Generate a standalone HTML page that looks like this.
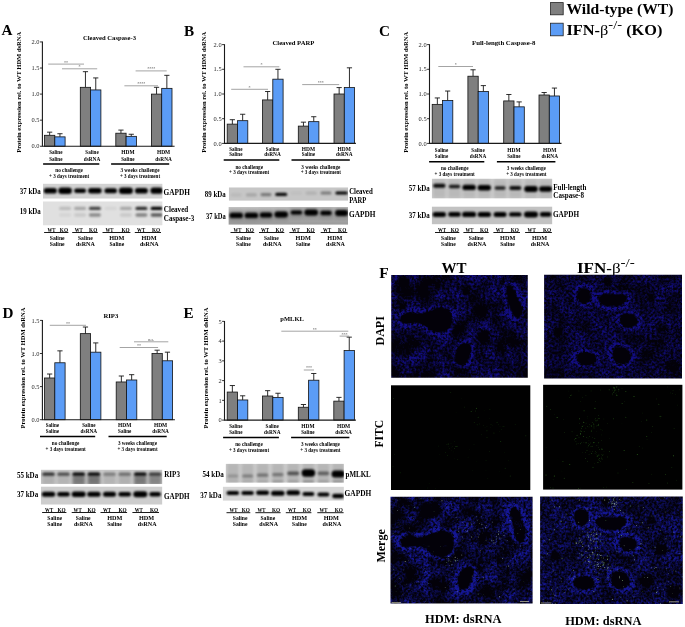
<!DOCTYPE html>
<html><head><meta charset="utf-8"><title>Figure</title>
<style>html,body{margin:0;padding:0;background:#fff}svg{display:block}text{font-family:"Liberation Serif", serif}</style>
</head><body>
<svg width="685" height="627" viewBox="0 0 685 627">
<defs>
<filter id="bl1" x="-30%" y="-80%" width="160%" height="260%"><feGaussianBlur stdDeviation="0.9 0.8"/></filter>
<filter id="bl2" x="-30%" y="-30%" width="160%" height="160%"><feGaussianBlur stdDeviation="1.6 2"/></filter>
<filter id="bl3" x="-20%" y="-20%" width="140%" height="140%"><feGaussianBlur stdDeviation="0.7"/></filter>
<filter id="spk" x="0" y="0" width="100%" height="100%" color-interpolation-filters="sRGB">
<feTurbulence type="fractalNoise" baseFrequency="0.55" numOctaves="2" seed="3"/><feColorMatrix type="matrix" values="1 0 0 0 0  0 1 0 0 0  0 0 1 0 0  0 0 0 0 1" result="n1"/>
<feTurbulence type="fractalNoise" baseFrequency="0.05" numOctaves="2" seed="8"/><feColorMatrix type="matrix" values="1 0 0 0 0  0 1 0 0 0  0 0 1 0 0  0 0 0 0 1" result="n2"/>
<feComposite in="n1" in2="n2" operator="arithmetic" k1="0" k2="2.6" k3="2.0" k4="-2.05"/>
<feColorMatrix type="matrix" values="0.09 0 0 0 0.01  0.05 0 0 0 0  0.62 0 0 0 0.03  0 0 0 0 1"/>
</filter>
<filter id="spk2" x="0" y="0" width="100%" height="100%" color-interpolation-filters="sRGB">
<feTurbulence type="fractalNoise" baseFrequency="0.55" numOctaves="2" seed="11"/><feColorMatrix type="matrix" values="1 0 0 0 0  0 1 0 0 0  0 0 1 0 0  0 0 0 0 1" result="n1"/>
<feTurbulence type="fractalNoise" baseFrequency="0.05" numOctaves="2" seed="21"/><feColorMatrix type="matrix" values="1 0 0 0 0  0 1 0 0 0  0 0 1 0 0  0 0 0 0 1" result="n2"/>
<feComposite in="n1" in2="n2" operator="arithmetic" k1="0" k2="2.6" k3="1.8" k4="-1.92"/>
<feColorMatrix type="matrix" values="0.09 0 0 0 0.01  0.05 0 0 0 0  0.62 0 0 0 0.03  0 0 0 0 1"/>
</filter>
</defs>
<rect width="685" height="627" fill="#fff"/>

<rect x="550.6" y="2.6" width="12.6" height="12.2" fill="#7f7f7f" stroke="#222" stroke-width="0.8"/>
<rect x="550.6" y="23.2" width="12.6" height="12.6" fill="#5b9cf6" stroke="#222" stroke-width="0.8"/>
<text x="566.50" y="13.80" font-size="15.2" font-weight="bold" fill="#000" textLength="106.90" lengthAdjust="spacingAndGlyphs" >Wild-type (WT)</text>
<text x="566.5" y="34.9" font-size="15.2" font-weight="bold" textLength="95.9" lengthAdjust="spacingAndGlyphs">IFN-<tspan font-weight="normal">β</tspan><tspan dy="-5.6" font-size="13.5" font-weight="normal">-/-</tspan><tspan dy="5.6"> (KO)</tspan></text>
<path d="M49.65 135.30V132.17M47.05 132.17H52.25" stroke="#161616" stroke-width="0.9" fill="none"/>
<rect x="44.50" y="135.30" width="10.30" height="10.95" fill="#7f7f7f" stroke="#111" stroke-width="0.8"/>
<path d="M59.95 136.86V133.73M57.35 133.73H62.55" stroke="#161616" stroke-width="0.9" fill="none"/>
<rect x="54.80" y="136.86" width="10.30" height="9.39" fill="#5b9cf6" stroke="#111" stroke-width="0.8"/>
<path d="M85.45 87.32V71.68M82.85 71.68H88.05" stroke="#161616" stroke-width="0.9" fill="none"/>
<rect x="80.30" y="87.32" width="10.30" height="58.93" fill="#7f7f7f" stroke="#111" stroke-width="0.8"/>
<path d="M95.75 89.93V77.93M93.15 77.93H98.35" stroke="#161616" stroke-width="0.9" fill="none"/>
<rect x="90.60" y="89.93" width="10.30" height="56.32" fill="#5b9cf6" stroke="#111" stroke-width="0.8"/>
<path d="M120.95 133.21V130.08M118.35 130.08H123.55" stroke="#161616" stroke-width="0.9" fill="none"/>
<rect x="115.80" y="133.21" width="10.30" height="13.04" fill="#7f7f7f" stroke="#111" stroke-width="0.8"/>
<path d="M131.25 136.34V134.26M128.65 134.26H133.85" stroke="#161616" stroke-width="0.9" fill="none"/>
<rect x="126.10" y="136.34" width="10.30" height="9.91" fill="#5b9cf6" stroke="#111" stroke-width="0.8"/>
<path d="M156.55 94.10V87.32M153.95 87.32H159.15" stroke="#161616" stroke-width="0.9" fill="none"/>
<rect x="151.40" y="94.10" width="10.30" height="52.15" fill="#7f7f7f" stroke="#111" stroke-width="0.8"/>
<path d="M166.85 88.36V75.33M164.25 75.33H169.45" stroke="#161616" stroke-width="0.9" fill="none"/>
<rect x="161.70" y="88.36" width="10.30" height="57.89" fill="#5b9cf6" stroke="#111" stroke-width="0.8"/>
<path d="M42.40 41.55V146.25H174.60" stroke="#1a1a1a" stroke-width="1.1" fill="none"/>
<path d="M40.00 146.25H42.40" stroke="#1a1a1a" stroke-width="0.9"/>
<text x="39.50" y="148.40" font-size="6.4" font-weight="normal" fill="#262626" text-anchor="end" >0.0</text>
<path d="M40.00 120.17H42.40" stroke="#1a1a1a" stroke-width="0.9"/>
<text x="39.50" y="122.33" font-size="6.4" font-weight="normal" fill="#262626" text-anchor="end" >0.5</text>
<path d="M40.00 94.10H42.40" stroke="#1a1a1a" stroke-width="0.9"/>
<text x="39.50" y="96.25" font-size="6.4" font-weight="normal" fill="#262626" text-anchor="end" >1.0</text>
<path d="M40.00 68.03H42.40" stroke="#1a1a1a" stroke-width="0.9"/>
<text x="39.50" y="70.18" font-size="6.4" font-weight="normal" fill="#262626" text-anchor="end" >1.5</text>
<path d="M40.00 41.95H42.40" stroke="#1a1a1a" stroke-width="0.9"/>
<text x="39.50" y="44.10" font-size="6.4" font-weight="normal" fill="#262626" text-anchor="end" >2.0</text>
<path d="M48.20 64.10H84.00" stroke="#7c7c7c" stroke-width="0.7"/>
<text x="66.10" y="63.50" font-size="4" font-weight="bold" fill="#777" text-anchor="middle" >**</text>
<path d="M62.00 68.80H97.20" stroke="#7c7c7c" stroke-width="0.7"/>
<text x="79.60" y="68.20" font-size="4" font-weight="bold" fill="#777" text-anchor="middle" >*</text>
<path d="M135.60 70.90H166.70" stroke="#7c7c7c" stroke-width="0.7"/>
<text x="151.15" y="70.30" font-size="4" font-weight="bold" fill="#777" text-anchor="middle" >****</text>
<path d="M124.40 85.80H158.00" stroke="#7c7c7c" stroke-width="0.7"/>
<text x="141.20" y="85.20" font-size="4" font-weight="bold" fill="#777" text-anchor="middle" >****</text>
<text x="82.90" y="40.18" font-size="6" font-weight="bold" fill="#000" textLength="53.10" lengthAdjust="spacingAndGlyphs" >Cleaved Caspase-3</text>
<text x="21.30" y="152.80" font-size="5.6" font-weight="bold" fill="#000" textLength="121.00" lengthAdjust="spacingAndGlyphs" transform="rotate(-90 21.30 152.80)" >Protein expression rel. to WT HDM dsRNA</text>
<text x="49.15" y="154.45" font-size="5.3" font-weight="bold" fill="#000" textLength="13.30" lengthAdjust="spacingAndGlyphs" >Saline</text>
<text x="49.15" y="160.65" font-size="5.3" font-weight="bold" fill="#000" textLength="13.30" lengthAdjust="spacingAndGlyphs" >Saline</text>
<text x="85.35" y="154.45" font-size="5.3" font-weight="bold" fill="#000" textLength="13.30" lengthAdjust="spacingAndGlyphs" >Saline</text>
<text x="83.70" y="160.65" font-size="5.3" font-weight="bold" fill="#000" textLength="16.60" lengthAdjust="spacingAndGlyphs" >dsRNA</text>
<text x="121.25" y="154.45" font-size="5.3" font-weight="bold" fill="#000" textLength="13.30" lengthAdjust="spacingAndGlyphs" >HDM</text>
<text x="121.25" y="160.65" font-size="5.3" font-weight="bold" fill="#000" textLength="13.30" lengthAdjust="spacingAndGlyphs" >Saline</text>
<text x="156.95" y="154.45" font-size="5.3" font-weight="bold" fill="#000" textLength="13.30" lengthAdjust="spacingAndGlyphs" >HDM</text>
<text x="155.30" y="160.65" font-size="5.3" font-weight="bold" fill="#000" textLength="16.60" lengthAdjust="spacingAndGlyphs" >dsRNA</text>
<path d="M43.10 164.00H99.30M111.10 164.00H169.20" stroke="#000" stroke-width="1.45"/>
<text x="55.30" y="172.20" font-size="5.3" font-weight="bold" fill="#000" textLength="27.60" lengthAdjust="spacingAndGlyphs" >no challenge</text>
<text x="49.00" y="178.40" font-size="5.3" font-weight="bold" fill="#000" textLength="40.20" lengthAdjust="spacingAndGlyphs" >+ 3 days treatment</text>
<text x="120.50" y="172.20" font-size="5.3" font-weight="bold" fill="#000" textLength="39.00" lengthAdjust="spacingAndGlyphs" >3 weeks challenge</text>
<text x="119.90" y="178.40" font-size="5.3" font-weight="bold" fill="#000" textLength="40.20" lengthAdjust="spacingAndGlyphs" >+ 3 days treatment</text>
<text x="1.60" y="35.40" font-size="15.2" font-weight="bold" fill="#000" >A</text>
<path d="M232.35 124.13V119.69M229.75 119.69H234.95" stroke="#161616" stroke-width="0.9" fill="none"/>
<rect x="227.20" y="124.13" width="10.30" height="19.27" fill="#7f7f7f" stroke="#111" stroke-width="0.8"/>
<path d="M242.65 120.68V114.25M240.05 114.25H245.25" stroke="#161616" stroke-width="0.9" fill="none"/>
<rect x="237.50" y="120.68" width="10.30" height="22.72" fill="#5b9cf6" stroke="#111" stroke-width="0.8"/>
<path d="M267.65 99.93V91.53M265.05 91.53H270.25" stroke="#161616" stroke-width="0.9" fill="none"/>
<rect x="262.50" y="99.93" width="10.30" height="43.47" fill="#7f7f7f" stroke="#111" stroke-width="0.8"/>
<path d="M277.95 79.18V69.30M275.35 69.30H280.55" stroke="#161616" stroke-width="0.9" fill="none"/>
<rect x="272.80" y="79.18" width="10.30" height="64.22" fill="#5b9cf6" stroke="#111" stroke-width="0.8"/>
<path d="M303.45 126.11V122.16M300.85 122.16H306.05" stroke="#161616" stroke-width="0.9" fill="none"/>
<rect x="298.30" y="126.11" width="10.30" height="17.29" fill="#7f7f7f" stroke="#111" stroke-width="0.8"/>
<path d="M313.75 121.66V116.72M311.15 116.72H316.35" stroke="#161616" stroke-width="0.9" fill="none"/>
<rect x="308.60" y="121.66" width="10.30" height="21.74" fill="#5b9cf6" stroke="#111" stroke-width="0.8"/>
<path d="M339.15 94.00V87.58M336.55 87.58H341.75" stroke="#161616" stroke-width="0.9" fill="none"/>
<rect x="334.00" y="94.00" width="10.30" height="49.40" fill="#7f7f7f" stroke="#111" stroke-width="0.8"/>
<path d="M349.45 87.58V67.82M346.85 67.82H352.05" stroke="#161616" stroke-width="0.9" fill="none"/>
<rect x="344.30" y="87.58" width="10.30" height="55.82" fill="#5b9cf6" stroke="#111" stroke-width="0.8"/>
<path d="M224.50 44.20V143.40H355.90" stroke="#1a1a1a" stroke-width="1.1" fill="none"/>
<path d="M222.10 143.40H224.50" stroke="#1a1a1a" stroke-width="0.9"/>
<text x="221.60" y="145.55" font-size="6.4" font-weight="normal" fill="#262626" text-anchor="end" >0.0</text>
<path d="M222.10 118.70H224.50" stroke="#1a1a1a" stroke-width="0.9"/>
<text x="221.60" y="120.85" font-size="6.4" font-weight="normal" fill="#262626" text-anchor="end" >0.5</text>
<path d="M222.10 94.00H224.50" stroke="#1a1a1a" stroke-width="0.9"/>
<text x="221.60" y="96.15" font-size="6.4" font-weight="normal" fill="#262626" text-anchor="end" >1.0</text>
<path d="M222.10 69.30H224.50" stroke="#1a1a1a" stroke-width="0.9"/>
<text x="221.60" y="71.45" font-size="6.4" font-weight="normal" fill="#262626" text-anchor="end" >1.5</text>
<path d="M222.10 44.60H224.50" stroke="#1a1a1a" stroke-width="0.9"/>
<text x="221.60" y="46.75" font-size="6.4" font-weight="normal" fill="#262626" text-anchor="end" >2.0</text>
<path d="M243.50 66.80H279.30" stroke="#7c7c7c" stroke-width="0.7"/>
<text x="261.40" y="66.20" font-size="4" font-weight="bold" fill="#777" text-anchor="middle" >*</text>
<path d="M231.20 89.30H268.00" stroke="#7c7c7c" stroke-width="0.7"/>
<text x="249.60" y="88.70" font-size="4" font-weight="bold" fill="#777" text-anchor="middle" >*</text>
<path d="M302.20 84.60H339.20" stroke="#7c7c7c" stroke-width="0.7"/>
<text x="320.70" y="84.00" font-size="4" font-weight="bold" fill="#777" text-anchor="middle" >***</text>
<text x="272.50" y="44.88" font-size="6" font-weight="bold" fill="#000" textLength="41.90" lengthAdjust="spacingAndGlyphs" >Cleaved PARP</text>
<text x="205.60" y="152.80" font-size="5.6" font-weight="bold" fill="#000" textLength="121.00" lengthAdjust="spacingAndGlyphs" transform="rotate(-90 205.60 152.80)" >Protein expression rel. to WT HDM dsRNA</text>
<text x="229.15" y="150.85" font-size="5.3" font-weight="bold" fill="#000" textLength="13.30" lengthAdjust="spacingAndGlyphs" >Saline</text>
<text x="229.15" y="156.35" font-size="5.3" font-weight="bold" fill="#000" textLength="13.30" lengthAdjust="spacingAndGlyphs" >Saline</text>
<text x="265.85" y="150.85" font-size="5.3" font-weight="bold" fill="#000" textLength="13.30" lengthAdjust="spacingAndGlyphs" >Saline</text>
<text x="264.20" y="156.35" font-size="5.3" font-weight="bold" fill="#000" textLength="16.60" lengthAdjust="spacingAndGlyphs" >dsRNA</text>
<text x="301.75" y="150.85" font-size="5.3" font-weight="bold" fill="#000" textLength="13.30" lengthAdjust="spacingAndGlyphs" >HDM</text>
<text x="301.75" y="156.35" font-size="5.3" font-weight="bold" fill="#000" textLength="13.30" lengthAdjust="spacingAndGlyphs" >Saline</text>
<text x="337.55" y="150.85" font-size="5.3" font-weight="bold" fill="#000" textLength="13.30" lengthAdjust="spacingAndGlyphs" >HDM</text>
<text x="335.90" y="156.35" font-size="5.3" font-weight="bold" fill="#000" textLength="16.60" lengthAdjust="spacingAndGlyphs" >dsRNA</text>
<path d="M223.70 160.00H279.30M291.50 160.00H349.80" stroke="#000" stroke-width="1.45"/>
<text x="235.40" y="168.60" font-size="5.3" font-weight="bold" fill="#000" textLength="27.60" lengthAdjust="spacingAndGlyphs" >no challenge</text>
<text x="229.10" y="174.30" font-size="5.3" font-weight="bold" fill="#000" textLength="40.20" lengthAdjust="spacingAndGlyphs" >+ 3 days treatment</text>
<text x="301.30" y="168.60" font-size="5.3" font-weight="bold" fill="#000" textLength="39.00" lengthAdjust="spacingAndGlyphs" >3 weeks challenge</text>
<text x="300.70" y="174.30" font-size="5.3" font-weight="bold" fill="#000" textLength="40.20" lengthAdjust="spacingAndGlyphs" >+ 3 days treatment</text>
<text x="184.00" y="35.50" font-size="15.2" font-weight="bold" fill="#000" >B</text>
<path d="M437.35 104.37V97.95M434.75 97.95H439.95" stroke="#161616" stroke-width="0.9" fill="none"/>
<rect x="432.20" y="104.37" width="10.30" height="39.03" fill="#7f7f7f" stroke="#111" stroke-width="0.8"/>
<path d="M447.65 100.42V91.04M445.05 91.04H450.25" stroke="#161616" stroke-width="0.9" fill="none"/>
<rect x="442.50" y="100.42" width="10.30" height="42.98" fill="#5b9cf6" stroke="#111" stroke-width="0.8"/>
<path d="M473.05 76.22V69.79M470.45 69.79H475.65" stroke="#161616" stroke-width="0.9" fill="none"/>
<rect x="467.90" y="76.22" width="10.30" height="67.18" fill="#7f7f7f" stroke="#111" stroke-width="0.8"/>
<path d="M483.35 91.53V85.60M480.75 85.60H485.95" stroke="#161616" stroke-width="0.9" fill="none"/>
<rect x="478.20" y="91.53" width="10.30" height="51.87" fill="#5b9cf6" stroke="#111" stroke-width="0.8"/>
<path d="M508.85 100.92V94.49M506.25 94.49H511.45" stroke="#161616" stroke-width="0.9" fill="none"/>
<rect x="503.70" y="100.92" width="10.30" height="42.48" fill="#7f7f7f" stroke="#111" stroke-width="0.8"/>
<path d="M519.15 106.84V101.90M516.55 101.90H521.75" stroke="#161616" stroke-width="0.9" fill="none"/>
<rect x="514.00" y="106.84" width="10.30" height="36.56" fill="#5b9cf6" stroke="#111" stroke-width="0.8"/>
<path d="M544.15 94.99V92.52M541.55 92.52H546.75" stroke="#161616" stroke-width="0.9" fill="none"/>
<rect x="539.00" y="94.99" width="10.30" height="48.41" fill="#7f7f7f" stroke="#111" stroke-width="0.8"/>
<path d="M554.45 95.98V88.07M551.85 88.07H557.05" stroke="#161616" stroke-width="0.9" fill="none"/>
<rect x="549.30" y="95.98" width="10.30" height="47.42" fill="#5b9cf6" stroke="#111" stroke-width="0.8"/>
<path d="M429.50 44.20V143.40H561.50" stroke="#1a1a1a" stroke-width="1.1" fill="none"/>
<path d="M427.10 143.40H429.50" stroke="#1a1a1a" stroke-width="0.9"/>
<text x="426.60" y="145.55" font-size="6.4" font-weight="normal" fill="#262626" text-anchor="end" >0.0</text>
<path d="M427.10 118.70H429.50" stroke="#1a1a1a" stroke-width="0.9"/>
<text x="426.60" y="120.85" font-size="6.4" font-weight="normal" fill="#262626" text-anchor="end" >0.5</text>
<path d="M427.10 94.00H429.50" stroke="#1a1a1a" stroke-width="0.9"/>
<text x="426.60" y="96.15" font-size="6.4" font-weight="normal" fill="#262626" text-anchor="end" >1.0</text>
<path d="M427.10 69.30H429.50" stroke="#1a1a1a" stroke-width="0.9"/>
<text x="426.60" y="71.45" font-size="6.4" font-weight="normal" fill="#262626" text-anchor="end" >1.5</text>
<path d="M427.10 44.60H429.50" stroke="#1a1a1a" stroke-width="0.9"/>
<text x="426.60" y="46.75" font-size="6.4" font-weight="normal" fill="#262626" text-anchor="end" >2.0</text>
<path d="M438.30 66.50H473.00" stroke="#7c7c7c" stroke-width="0.7"/>
<text x="455.65" y="65.90" font-size="4" font-weight="bold" fill="#777" text-anchor="middle" >*</text>
<text x="472.00" y="44.88" font-size="6" font-weight="bold" fill="#000" textLength="63.40" lengthAdjust="spacingAndGlyphs" >Full-length Caspase-8</text>
<text x="408.00" y="152.80" font-size="5.6" font-weight="bold" fill="#000" textLength="121.00" lengthAdjust="spacingAndGlyphs" transform="rotate(-90 408.00 152.80)" >Protein expression rel. to WT HDM dsRNA</text>
<text x="434.85" y="152.35" font-size="5.3" font-weight="bold" fill="#000" textLength="13.30" lengthAdjust="spacingAndGlyphs" >Saline</text>
<text x="434.85" y="158.45" font-size="5.3" font-weight="bold" fill="#000" textLength="13.30" lengthAdjust="spacingAndGlyphs" >Saline</text>
<text x="471.35" y="152.35" font-size="5.3" font-weight="bold" fill="#000" textLength="13.30" lengthAdjust="spacingAndGlyphs" >Saline</text>
<text x="469.70" y="158.45" font-size="5.3" font-weight="bold" fill="#000" textLength="16.60" lengthAdjust="spacingAndGlyphs" >dsRNA</text>
<text x="507.25" y="152.35" font-size="5.3" font-weight="bold" fill="#000" textLength="13.30" lengthAdjust="spacingAndGlyphs" >HDM</text>
<text x="507.25" y="158.45" font-size="5.3" font-weight="bold" fill="#000" textLength="13.30" lengthAdjust="spacingAndGlyphs" >Saline</text>
<text x="543.05" y="152.35" font-size="5.3" font-weight="bold" fill="#000" textLength="13.30" lengthAdjust="spacingAndGlyphs" >HDM</text>
<text x="541.40" y="158.45" font-size="5.3" font-weight="bold" fill="#000" textLength="16.60" lengthAdjust="spacingAndGlyphs" >dsRNA</text>
<path d="M429.10 161.80H484.30M496.90 161.80H555.40" stroke="#000" stroke-width="1.45"/>
<text x="440.90" y="170.20" font-size="5.3" font-weight="bold" fill="#000" textLength="27.60" lengthAdjust="spacingAndGlyphs" >no challenge</text>
<text x="434.60" y="176.00" font-size="5.3" font-weight="bold" fill="#000" textLength="40.20" lengthAdjust="spacingAndGlyphs" >+ 3 days treatment</text>
<text x="506.80" y="170.20" font-size="5.3" font-weight="bold" fill="#000" textLength="39.00" lengthAdjust="spacingAndGlyphs" >3 weeks challenge</text>
<text x="506.20" y="176.00" font-size="5.3" font-weight="bold" fill="#000" textLength="40.20" lengthAdjust="spacingAndGlyphs" >+ 3 days treatment</text>
<text x="379.00" y="35.60" font-size="15.2" font-weight="bold" fill="#000" >C</text>
<path d="M49.65 377.99V374.02M47.05 374.02H52.25" stroke="#161616" stroke-width="0.9" fill="none"/>
<rect x="44.50" y="377.99" width="10.30" height="41.71" fill="#7f7f7f" stroke="#111" stroke-width="0.8"/>
<path d="M59.95 362.77V350.85M57.35 350.85H62.55" stroke="#161616" stroke-width="0.9" fill="none"/>
<rect x="54.80" y="362.77" width="10.30" height="56.93" fill="#5b9cf6" stroke="#111" stroke-width="0.8"/>
<path d="M85.45 333.64V327.02M82.85 327.02H88.05" stroke="#161616" stroke-width="0.9" fill="none"/>
<rect x="80.30" y="333.64" width="10.30" height="86.06" fill="#7f7f7f" stroke="#111" stroke-width="0.8"/>
<path d="M95.75 352.18V342.91M93.15 342.91H98.35" stroke="#161616" stroke-width="0.9" fill="none"/>
<rect x="90.60" y="352.18" width="10.30" height="67.52" fill="#5b9cf6" stroke="#111" stroke-width="0.8"/>
<path d="M121.35 381.97V376.01M118.75 376.01H123.95" stroke="#161616" stroke-width="0.9" fill="none"/>
<rect x="116.20" y="381.97" width="10.30" height="37.73" fill="#7f7f7f" stroke="#111" stroke-width="0.8"/>
<path d="M131.65 379.98V374.68M129.05 374.68H134.25" stroke="#161616" stroke-width="0.9" fill="none"/>
<rect x="126.50" y="379.98" width="10.30" height="39.72" fill="#5b9cf6" stroke="#111" stroke-width="0.8"/>
<path d="M157.15 353.50V350.19M154.55 350.19H159.75" stroke="#161616" stroke-width="0.9" fill="none"/>
<rect x="152.00" y="353.50" width="10.30" height="66.20" fill="#7f7f7f" stroke="#111" stroke-width="0.8"/>
<path d="M167.45 360.78V352.18M164.85 352.18H170.05" stroke="#161616" stroke-width="0.9" fill="none"/>
<rect x="162.30" y="360.78" width="10.30" height="58.92" fill="#5b9cf6" stroke="#111" stroke-width="0.8"/>
<path d="M42.40 320.00V419.70H174.90" stroke="#1a1a1a" stroke-width="1.1" fill="none"/>
<path d="M40.00 419.70H42.40" stroke="#1a1a1a" stroke-width="0.9"/>
<text x="39.50" y="421.85" font-size="6.4" font-weight="normal" fill="#262626" text-anchor="end" >0.0</text>
<path d="M40.00 386.60H42.40" stroke="#1a1a1a" stroke-width="0.9"/>
<text x="39.50" y="388.75" font-size="6.4" font-weight="normal" fill="#262626" text-anchor="end" >0.5</text>
<path d="M40.00 353.50H42.40" stroke="#1a1a1a" stroke-width="0.9"/>
<text x="39.50" y="355.65" font-size="6.4" font-weight="normal" fill="#262626" text-anchor="end" >1.0</text>
<path d="M40.00 320.40H42.40" stroke="#1a1a1a" stroke-width="0.9"/>
<text x="39.50" y="322.55" font-size="6.4" font-weight="normal" fill="#262626" text-anchor="end" >1.5</text>
<path d="M49.80 325.30H86.00" stroke="#7c7c7c" stroke-width="0.7"/>
<text x="67.90" y="324.70" font-size="4" font-weight="bold" fill="#777" text-anchor="middle" >**</text>
<path d="M134.00 341.80H168.30" stroke="#7c7c7c" stroke-width="0.7"/>
<text x="151.15" y="341.20" font-size="4" font-weight="bold" fill="#777" text-anchor="middle" >n.s.</text>
<path d="M119.70 347.50H158.10" stroke="#7c7c7c" stroke-width="0.7"/>
<text x="138.90" y="346.90" font-size="4" font-weight="bold" fill="#777" text-anchor="middle" >**</text>
<text x="103.40" y="318.18" font-size="6" font-weight="bold" fill="#000" textLength="14.90" lengthAdjust="spacingAndGlyphs" >RIP3</text>
<text x="24.60" y="428.50" font-size="5.6" font-weight="bold" fill="#000" textLength="121.00" lengthAdjust="spacingAndGlyphs" transform="rotate(-90 24.60 428.50)" >Protein expression rel. to WT HDM dsRNA</text>
<text x="45.75" y="426.85" font-size="5.3" font-weight="bold" fill="#000" textLength="13.30" lengthAdjust="spacingAndGlyphs" >Saline</text>
<text x="45.75" y="433.05" font-size="5.3" font-weight="bold" fill="#000" textLength="13.30" lengthAdjust="spacingAndGlyphs" >Saline</text>
<text x="82.25" y="426.85" font-size="5.3" font-weight="bold" fill="#000" textLength="13.30" lengthAdjust="spacingAndGlyphs" >Saline</text>
<text x="80.60" y="433.05" font-size="5.3" font-weight="bold" fill="#000" textLength="16.60" lengthAdjust="spacingAndGlyphs" >dsRNA</text>
<text x="118.05" y="426.85" font-size="5.3" font-weight="bold" fill="#000" textLength="13.30" lengthAdjust="spacingAndGlyphs" >HDM</text>
<text x="118.05" y="433.05" font-size="5.3" font-weight="bold" fill="#000" textLength="13.30" lengthAdjust="spacingAndGlyphs" >Saline</text>
<text x="153.95" y="426.85" font-size="5.3" font-weight="bold" fill="#000" textLength="13.30" lengthAdjust="spacingAndGlyphs" >HDM</text>
<text x="152.30" y="433.05" font-size="5.3" font-weight="bold" fill="#000" textLength="16.60" lengthAdjust="spacingAndGlyphs" >dsRNA</text>
<path d="M40.00 436.40H95.20M108.50 436.40H166.70" stroke="#000" stroke-width="1.45"/>
<text x="51.80" y="444.80" font-size="5.3" font-weight="bold" fill="#000" textLength="27.60" lengthAdjust="spacingAndGlyphs" >no challenge</text>
<text x="45.50" y="450.90" font-size="5.3" font-weight="bold" fill="#000" textLength="40.20" lengthAdjust="spacingAndGlyphs" >+ 3 days treatment</text>
<text x="118.00" y="444.80" font-size="5.3" font-weight="bold" fill="#000" textLength="39.00" lengthAdjust="spacingAndGlyphs" >3 weeks challenge</text>
<text x="117.40" y="450.90" font-size="5.3" font-weight="bold" fill="#000" textLength="40.20" lengthAdjust="spacingAndGlyphs" >+ 3 days treatment</text>
<text x="2.40" y="317.90" font-size="15.2" font-weight="bold" fill="#000" >D</text>
<path d="M232.35 392.06V385.54M229.75 385.54H234.95" stroke="#161616" stroke-width="0.9" fill="none"/>
<rect x="227.20" y="392.06" width="10.30" height="28.05" fill="#7f7f7f" stroke="#111" stroke-width="0.8"/>
<path d="M242.65 399.96V395.81M240.05 395.81H245.25" stroke="#161616" stroke-width="0.9" fill="none"/>
<rect x="237.50" y="399.96" width="10.30" height="20.14" fill="#5b9cf6" stroke="#111" stroke-width="0.8"/>
<path d="M267.65 396.00V390.67M265.05 390.67H270.25" stroke="#161616" stroke-width="0.9" fill="none"/>
<rect x="262.50" y="396.00" width="10.30" height="24.10" fill="#7f7f7f" stroke="#111" stroke-width="0.8"/>
<path d="M277.95 397.39V393.24M275.35 393.24H280.55" stroke="#161616" stroke-width="0.9" fill="none"/>
<rect x="272.80" y="397.39" width="10.30" height="22.71" fill="#5b9cf6" stroke="#111" stroke-width="0.8"/>
<path d="M303.45 407.26V404.50M300.85 404.50H306.05" stroke="#161616" stroke-width="0.9" fill="none"/>
<rect x="298.30" y="407.26" width="10.30" height="12.84" fill="#7f7f7f" stroke="#111" stroke-width="0.8"/>
<path d="M313.75 380.21V373.49M311.15 373.49H316.35" stroke="#161616" stroke-width="0.9" fill="none"/>
<rect x="308.60" y="380.21" width="10.30" height="39.89" fill="#5b9cf6" stroke="#111" stroke-width="0.8"/>
<path d="M338.95 401.14V397.39M336.35 397.39H341.55" stroke="#161616" stroke-width="0.9" fill="none"/>
<rect x="333.80" y="401.14" width="10.30" height="18.96" fill="#7f7f7f" stroke="#111" stroke-width="0.8"/>
<path d="M349.25 350.58V337.15M346.65 337.15H351.85" stroke="#161616" stroke-width="0.9" fill="none"/>
<rect x="344.10" y="350.58" width="10.30" height="69.52" fill="#5b9cf6" stroke="#111" stroke-width="0.8"/>
<path d="M224.50 320.95V420.10H355.90" stroke="#1a1a1a" stroke-width="1.1" fill="none"/>
<path d="M222.10 420.10H224.50" stroke="#1a1a1a" stroke-width="0.9"/>
<text x="221.60" y="422.25" font-size="6.4" font-weight="normal" fill="#262626" text-anchor="end" >0</text>
<path d="M222.10 400.35H224.50" stroke="#1a1a1a" stroke-width="0.9"/>
<text x="221.60" y="402.50" font-size="6.4" font-weight="normal" fill="#262626" text-anchor="end" >1</text>
<path d="M222.10 380.60H224.50" stroke="#1a1a1a" stroke-width="0.9"/>
<text x="221.60" y="382.75" font-size="6.4" font-weight="normal" fill="#262626" text-anchor="end" >2</text>
<path d="M222.10 360.85H224.50" stroke="#1a1a1a" stroke-width="0.9"/>
<text x="221.60" y="363.00" font-size="6.4" font-weight="normal" fill="#262626" text-anchor="end" >3</text>
<path d="M222.10 341.10H224.50" stroke="#1a1a1a" stroke-width="0.9"/>
<text x="221.60" y="343.25" font-size="6.4" font-weight="normal" fill="#262626" text-anchor="end" >4</text>
<path d="M222.10 321.35H224.50" stroke="#1a1a1a" stroke-width="0.9"/>
<text x="221.60" y="323.50" font-size="6.4" font-weight="normal" fill="#262626" text-anchor="end" >5</text>
<path d="M281.30 331.20H348.30" stroke="#7c7c7c" stroke-width="0.7"/>
<text x="314.80" y="330.60" font-size="4" font-weight="bold" fill="#777" text-anchor="middle" >**</text>
<path d="M303.80 370.00H314.00" stroke="#7c7c7c" stroke-width="0.7"/>
<text x="308.90" y="369.40" font-size="4" font-weight="bold" fill="#777" text-anchor="middle" >***</text>
<path d="M339.60 336.10H349.20" stroke="#7c7c7c" stroke-width="0.7"/>
<text x="344.40" y="335.50" font-size="4" font-weight="bold" fill="#777" text-anchor="middle" >***</text>
<text x="280.30" y="321.08" font-size="6.6" font-weight="bold" fill="#000" textLength="23.50" lengthAdjust="spacingAndGlyphs" >pMLKL</text>
<text x="208.40" y="428.50" font-size="5.6" font-weight="bold" fill="#000" textLength="121.00" lengthAdjust="spacingAndGlyphs" transform="rotate(-90 208.40 428.50)" >Protein expression rel. to WT HDM dsRNA</text>
<text x="229.15" y="427.95" font-size="5.3" font-weight="bold" fill="#000" textLength="13.30" lengthAdjust="spacingAndGlyphs" >Saline</text>
<text x="229.15" y="434.05" font-size="5.3" font-weight="bold" fill="#000" textLength="13.30" lengthAdjust="spacingAndGlyphs" >Saline</text>
<text x="265.55" y="427.95" font-size="5.3" font-weight="bold" fill="#000" textLength="13.30" lengthAdjust="spacingAndGlyphs" >Saline</text>
<text x="263.90" y="434.05" font-size="5.3" font-weight="bold" fill="#000" textLength="16.60" lengthAdjust="spacingAndGlyphs" >dsRNA</text>
<text x="301.25" y="427.95" font-size="5.3" font-weight="bold" fill="#000" textLength="13.30" lengthAdjust="spacingAndGlyphs" >HDM</text>
<text x="301.25" y="434.05" font-size="5.3" font-weight="bold" fill="#000" textLength="13.30" lengthAdjust="spacingAndGlyphs" >Saline</text>
<text x="336.95" y="427.95" font-size="5.3" font-weight="bold" fill="#000" textLength="13.30" lengthAdjust="spacingAndGlyphs" >HDM</text>
<text x="335.30" y="434.05" font-size="5.3" font-weight="bold" fill="#000" textLength="16.60" lengthAdjust="spacingAndGlyphs" >dsRNA</text>
<path d="M223.10 437.40H278.90M291.10 437.40H349.40" stroke="#000" stroke-width="1.45"/>
<text x="235.20" y="445.80" font-size="5.3" font-weight="bold" fill="#000" textLength="27.60" lengthAdjust="spacingAndGlyphs" >no challenge</text>
<text x="228.90" y="451.80" font-size="5.3" font-weight="bold" fill="#000" textLength="40.20" lengthAdjust="spacingAndGlyphs" >+ 3 days treatment</text>
<text x="300.90" y="445.80" font-size="5.3" font-weight="bold" fill="#000" textLength="39.00" lengthAdjust="spacingAndGlyphs" >3 weeks challenge</text>
<text x="300.30" y="451.80" font-size="5.3" font-weight="bold" fill="#000" textLength="40.20" lengthAdjust="spacingAndGlyphs" >+ 3 days treatment</text>
<text x="183.50" y="318.30" font-size="15.2" font-weight="bold" fill="#000" >E</text>
<g clip-path="url(#cA1)">
<clipPath id="cA1"><rect x="43.00" y="183.60" width="119.60" height="15.10"/></clipPath>
<rect x="43.00" y="183.60" width="119.60" height="15.10" fill="#d2d2d2"/>
<rect x="43.70" y="187.90" width="13.20" height="5.60" rx="2.80" fill="#000" opacity="1.00" filter="url(#bl1)"/>
<rect x="58.30" y="187.50" width="13.60" height="6.40" rx="3.20" fill="#000" opacity="1.00" filter="url(#bl1)"/>
<rect x="74.10" y="188.50" width="12.00" height="4.40" rx="2.20" fill="#000" opacity="1.00" filter="url(#bl1)"/>
<rect x="88.10" y="188.00" width="13.60" height="5.40" rx="2.70" fill="#000" opacity="1.00" filter="url(#bl1)"/>
<rect x="104.40" y="188.20" width="12.60" height="5.00" rx="2.50" fill="#000" opacity="1.00" filter="url(#bl1)"/>
<rect x="118.90" y="187.50" width="14.00" height="6.40" rx="3.20" fill="#000" opacity="1.00" filter="url(#bl1)"/>
<rect x="134.90" y="187.90" width="13.00" height="5.60" rx="2.80" fill="#000" opacity="1.00" filter="url(#bl1)"/>
<rect x="150.40" y="187.60" width="12.40" height="6.20" rx="3.10" fill="#000" opacity="1.00" filter="url(#bl1)"/>
</g>
<g clip-path="url(#cA2)">
<clipPath id="cA2"><rect x="43.00" y="201.30" width="119.60" height="24.20"/></clipPath>
<rect x="43.00" y="201.30" width="119.60" height="24.20" fill="#e0e0e0"/>
<rect x="59.10" y="206.70" width="12.00" height="3.40" rx="1.70" fill="#000" opacity="0.16" filter="url(#bl1)"/>
<rect x="74.10" y="206.70" width="12.00" height="3.40" rx="1.70" fill="#000" opacity="0.26" filter="url(#bl1)"/>
<rect x="88.90" y="206.70" width="12.00" height="3.40" rx="1.70" fill="#000" opacity="0.70" filter="url(#bl1)"/>
<rect x="104.70" y="206.70" width="12.00" height="3.40" rx="1.70" fill="#000" opacity="0.05" filter="url(#bl1)"/>
<rect x="119.90" y="206.70" width="12.00" height="3.40" rx="1.70" fill="#000" opacity="0.26" filter="url(#bl1)"/>
<rect x="135.40" y="206.70" width="12.00" height="3.40" rx="1.70" fill="#000" opacity="0.80" filter="url(#bl1)"/>
<rect x="150.60" y="206.70" width="12.00" height="3.40" rx="1.70" fill="#000" opacity="1.00" filter="url(#bl1)"/>
<rect x="59.10" y="213.30" width="12.00" height="3.40" rx="1.70" fill="#000" opacity="0.05" filter="url(#bl1)"/>
<rect x="74.10" y="213.30" width="12.00" height="3.40" rx="1.70" fill="#000" opacity="0.10" filter="url(#bl1)"/>
<rect x="88.90" y="213.30" width="12.00" height="3.40" rx="1.70" fill="#000" opacity="0.38" filter="url(#bl1)"/>
<rect x="119.90" y="213.30" width="12.00" height="3.40" rx="1.70" fill="#000" opacity="0.10" filter="url(#bl1)"/>
<rect x="135.40" y="213.30" width="12.00" height="3.40" rx="1.70" fill="#000" opacity="0.42" filter="url(#bl1)"/>
<rect x="150.60" y="213.30" width="12.00" height="3.40" rx="1.70" fill="#000" opacity="0.60" filter="url(#bl1)"/>
</g>
<text x="19.80" y="194.20" font-size="7.8" font-weight="bold" fill="#000" textLength="20.90" lengthAdjust="spacingAndGlyphs" >37 kDa</text>
<text x="19.80" y="213.80" font-size="7.8" font-weight="bold" fill="#000" textLength="20.90" lengthAdjust="spacingAndGlyphs" >19 kDa</text>
<text x="163.60" y="195.30" font-size="7.8" font-weight="bold" fill="#000" textLength="26.40" lengthAdjust="spacingAndGlyphs" >GAPDH</text>
<text x="163.80" y="211.80" font-size="7.8" font-weight="bold" fill="#000" textLength="24.50" lengthAdjust="spacingAndGlyphs" >Cleaved</text>
<text x="163.80" y="220.80" font-size="7.8" font-weight="bold" fill="#000" textLength="30.50" lengthAdjust="spacingAndGlyphs" >Caspase-3</text>
<text x="47.50" y="232.00" font-size="6.2" font-weight="bold" fill="#000" textLength="8.00" lengthAdjust="spacingAndGlyphs" >WT</text>
<text x="59.80" y="232.00" font-size="6.2" font-weight="bold" fill="#000" textLength="8.20" lengthAdjust="spacingAndGlyphs" >KO</text>
<path d="M44.10 232.50H68.40" stroke="#000" stroke-width="0.9"/>
<text x="49.85" y="239.95" font-size="6.2" font-weight="bold" fill="#000" textLength="14.70" lengthAdjust="spacingAndGlyphs" >Saline</text>
<text x="49.85" y="245.95" font-size="6.2" font-weight="bold" fill="#000" textLength="14.70" lengthAdjust="spacingAndGlyphs" >Saline</text>
<text x="74.80" y="232.00" font-size="6.2" font-weight="bold" fill="#000" textLength="8.00" lengthAdjust="spacingAndGlyphs" >WT</text>
<text x="89.10" y="232.00" font-size="6.2" font-weight="bold" fill="#000" textLength="8.20" lengthAdjust="spacingAndGlyphs" >KO</text>
<path d="M72.20 232.50H97.80" stroke="#000" stroke-width="0.9"/>
<text x="77.95" y="239.95" font-size="6.2" font-weight="bold" fill="#000" textLength="14.70" lengthAdjust="spacingAndGlyphs" >Saline</text>
<text x="76.00" y="245.95" font-size="6.2" font-weight="bold" fill="#000" textLength="18.80" lengthAdjust="spacingAndGlyphs" >dsRNA</text>
<text x="105.40" y="232.00" font-size="6.2" font-weight="bold" fill="#000" textLength="8.00" lengthAdjust="spacingAndGlyphs" >WT</text>
<text x="121.50" y="232.00" font-size="6.2" font-weight="bold" fill="#000" textLength="8.20" lengthAdjust="spacingAndGlyphs" >KO</text>
<path d="M102.50 232.50H130.40" stroke="#000" stroke-width="0.9"/>
<text x="109.20" y="239.95" font-size="6.2" font-weight="bold" fill="#000" textLength="15.20" lengthAdjust="spacingAndGlyphs" >HDM</text>
<text x="109.45" y="245.95" font-size="6.2" font-weight="bold" fill="#000" textLength="14.70" lengthAdjust="spacingAndGlyphs" >Saline</text>
<text x="137.10" y="232.00" font-size="6.2" font-weight="bold" fill="#000" textLength="8.00" lengthAdjust="spacingAndGlyphs" >WT</text>
<text x="152.00" y="232.00" font-size="6.2" font-weight="bold" fill="#000" textLength="8.20" lengthAdjust="spacingAndGlyphs" >KO</text>
<path d="M134.80 232.50H161.00" stroke="#000" stroke-width="0.9"/>
<text x="141.40" y="239.95" font-size="6.2" font-weight="bold" fill="#000" textLength="15.20" lengthAdjust="spacingAndGlyphs" >HDM</text>
<text x="139.90" y="245.95" font-size="6.2" font-weight="bold" fill="#000" textLength="18.80" lengthAdjust="spacingAndGlyphs" >dsRNA</text>
<g clip-path="url(#cB1)">
<clipPath id="cB1"><rect x="228.80" y="187.30" width="119.20" height="13.50"/></clipPath>
<rect x="228.80" y="187.30" width="119.20" height="13.50" fill="#c6c6c6"/>
<rect x="230.70" y="193.30" width="11.00" height="3.20" rx="1.60" fill="#000" opacity="0.06" filter="url(#bl1)"/>
<rect x="245.90" y="193.30" width="11.00" height="3.20" rx="1.60" fill="#000" opacity="0.16" filter="url(#bl1)"/>
<rect x="260.50" y="193.00" width="11.00" height="3.20" rx="1.60" fill="#000" opacity="0.38" filter="url(#bl1)"/>
<rect x="275.20" y="192.80" width="12.00" height="3.20" rx="1.60" fill="#000" opacity="0.95" filter="url(#bl1)"/>
<rect x="290.90" y="191.60" width="11.00" height="3.20" rx="1.60" fill="#000" opacity="0.03" filter="url(#bl1)"/>
<rect x="305.70" y="191.60" width="11.00" height="3.20" rx="1.60" fill="#000" opacity="0.10" filter="url(#bl1)"/>
<rect x="320.50" y="191.40" width="11.00" height="3.20" rx="1.60" fill="#000" opacity="0.38" filter="url(#bl1)"/>
<rect x="335.35" y="191.40" width="12.50" height="3.20" rx="1.60" fill="#000" opacity="1.00" filter="url(#bl1)"/>
</g>
<g clip-path="url(#cB2)">
<clipPath id="cB2"><rect x="228.40" y="207.00" width="119.60" height="17.80"/></clipPath>
<linearGradient id="gB2" x1="0" y1="0" x2="0" y2="1"><stop offset="0" stop-color="#c0c0c0"/><stop offset="1" stop-color="#9a9a9a"/></linearGradient>
<rect x="228.40" y="207.00" width="119.60" height="17.80" fill="url(#gB2)"/>
<rect x="229.20" y="210.90" width="14.00" height="9.50" fill="#000" opacity="0.22" filter="url(#bl2)"/>
<rect x="244.40" y="210.90" width="14.00" height="9.50" fill="#000" opacity="0.22" filter="url(#bl2)"/>
<rect x="259.00" y="210.50" width="14.00" height="9.50" fill="#000" opacity="0.22" filter="url(#bl2)"/>
<rect x="274.20" y="210.10" width="14.00" height="9.50" fill="#000" opacity="0.22" filter="url(#bl2)"/>
<rect x="289.40" y="208.10" width="14.00" height="9.50" fill="#000" opacity="0.22" filter="url(#bl2)"/>
<rect x="304.20" y="207.90" width="14.00" height="9.50" fill="#000" opacity="0.22" filter="url(#bl2)"/>
<rect x="319.00" y="208.50" width="14.00" height="9.50" fill="#000" opacity="0.22" filter="url(#bl2)"/>
<rect x="334.60" y="208.50" width="14.00" height="9.50" fill="#000" opacity="0.22" filter="url(#bl2)"/>
<rect x="229.50" y="212.70" width="13.40" height="5.40" rx="2.70" fill="#000" opacity="1.00" filter="url(#bl1)"/>
<rect x="244.70" y="212.70" width="13.40" height="5.40" rx="2.70" fill="#000" opacity="1.00" filter="url(#bl1)"/>
<rect x="259.80" y="212.50" width="12.40" height="5.00" rx="2.50" fill="#000" opacity="1.00" filter="url(#bl1)"/>
<rect x="274.50" y="211.60" width="13.40" height="6.00" rx="3.00" fill="#000" opacity="1.00" filter="url(#bl1)"/>
<rect x="290.70" y="210.60" width="11.40" height="4.00" rx="2.00" fill="#000" opacity="1.00" filter="url(#bl1)"/>
<rect x="304.40" y="209.40" width="13.60" height="6.00" rx="3.00" fill="#000" opacity="1.00" filter="url(#bl1)"/>
<rect x="320.30" y="210.80" width="11.40" height="4.40" rx="2.20" fill="#000" opacity="1.00" filter="url(#bl1)"/>
<rect x="335.10" y="210.00" width="13.00" height="6.00" rx="3.00" fill="#000" opacity="1.00" filter="url(#bl1)"/>
</g>
<text x="204.80" y="197.00" font-size="7.8" font-weight="bold" fill="#000" textLength="20.90" lengthAdjust="spacingAndGlyphs" >89 kDa</text>
<text x="206.00" y="218.50" font-size="7.8" font-weight="bold" fill="#000" textLength="19.70" lengthAdjust="spacingAndGlyphs" >37 kDa</text>
<text x="349.20" y="193.80" font-size="7.8" font-weight="bold" fill="#000" textLength="23.50" lengthAdjust="spacingAndGlyphs" >Cleaved</text>
<text x="349.20" y="202.80" font-size="7.8" font-weight="bold" fill="#000" textLength="17.00" lengthAdjust="spacingAndGlyphs" >PARP</text>
<text x="349.00" y="217.00" font-size="7.8" font-weight="bold" fill="#000" textLength="26.40" lengthAdjust="spacingAndGlyphs" >GAPDH</text>
<text x="233.40" y="232.00" font-size="6.2" font-weight="bold" fill="#000" textLength="8.00" lengthAdjust="spacingAndGlyphs" >WT</text>
<text x="245.70" y="232.00" font-size="6.2" font-weight="bold" fill="#000" textLength="8.20" lengthAdjust="spacingAndGlyphs" >KO</text>
<path d="M230.50 232.50H254.30" stroke="#000" stroke-width="0.9"/>
<text x="236.05" y="239.95" font-size="6.2" font-weight="bold" fill="#000" textLength="14.70" lengthAdjust="spacingAndGlyphs" >Saline</text>
<text x="236.05" y="245.95" font-size="6.2" font-weight="bold" fill="#000" textLength="14.70" lengthAdjust="spacingAndGlyphs" >Saline</text>
<text x="260.90" y="232.00" font-size="6.2" font-weight="bold" fill="#000" textLength="8.00" lengthAdjust="spacingAndGlyphs" >WT</text>
<text x="275.60" y="232.00" font-size="6.2" font-weight="bold" fill="#000" textLength="8.20" lengthAdjust="spacingAndGlyphs" >KO</text>
<path d="M259.00 232.50H284.30" stroke="#000" stroke-width="0.9"/>
<text x="263.95" y="239.95" font-size="6.2" font-weight="bold" fill="#000" textLength="14.70" lengthAdjust="spacingAndGlyphs" >Saline</text>
<text x="262.90" y="245.95" font-size="6.2" font-weight="bold" fill="#000" textLength="18.80" lengthAdjust="spacingAndGlyphs" >dsRNA</text>
<text x="291.80" y="232.00" font-size="6.2" font-weight="bold" fill="#000" textLength="8.00" lengthAdjust="spacingAndGlyphs" >WT</text>
<text x="306.40" y="232.00" font-size="6.2" font-weight="bold" fill="#000" textLength="8.20" lengthAdjust="spacingAndGlyphs" >KO</text>
<path d="M289.40 232.50H315.00" stroke="#000" stroke-width="0.9"/>
<text x="295.60" y="239.95" font-size="6.2" font-weight="bold" fill="#000" textLength="15.20" lengthAdjust="spacingAndGlyphs" >HDM</text>
<text x="295.65" y="245.95" font-size="6.2" font-weight="bold" fill="#000" textLength="14.70" lengthAdjust="spacingAndGlyphs" >Saline</text>
<text x="323.10" y="232.00" font-size="6.2" font-weight="bold" fill="#000" textLength="8.00" lengthAdjust="spacingAndGlyphs" >WT</text>
<text x="338.10" y="232.00" font-size="6.2" font-weight="bold" fill="#000" textLength="8.20" lengthAdjust="spacingAndGlyphs" >KO</text>
<path d="M320.70 232.50H347.30" stroke="#000" stroke-width="0.9"/>
<text x="327.30" y="239.95" font-size="6.2" font-weight="bold" fill="#000" textLength="15.20" lengthAdjust="spacingAndGlyphs" >HDM</text>
<text x="326.10" y="245.95" font-size="6.2" font-weight="bold" fill="#000" textLength="18.80" lengthAdjust="spacingAndGlyphs" >dsRNA</text>
<g clip-path="url(#cC1)">
<clipPath id="cC1"><rect x="431.70" y="178.60" width="120.70" height="20.00"/></clipPath>
<rect x="431.70" y="178.60" width="120.70" height="20.00" fill="#cfcfcf"/>
<rect x="432.80" y="179.00" width="13.00" height="20.00" fill="#000" opacity="0.1" filter="url(#bl2)"/>
<rect x="448.00" y="179.00" width="13.00" height="20.00" fill="#000" opacity="0.1" filter="url(#bl2)"/>
<rect x="462.60" y="179.00" width="13.00" height="20.00" fill="#000" opacity="0.1" filter="url(#bl2)"/>
<rect x="477.80" y="179.00" width="13.00" height="20.00" fill="#000" opacity="0.1" filter="url(#bl2)"/>
<rect x="493.60" y="179.00" width="13.00" height="20.00" fill="#000" opacity="0.1" filter="url(#bl2)"/>
<rect x="508.80" y="179.00" width="13.00" height="20.00" fill="#000" opacity="0.1" filter="url(#bl2)"/>
<rect x="524.50" y="179.00" width="13.00" height="20.00" fill="#000" opacity="0.1" filter="url(#bl2)"/>
<rect x="539.10" y="179.00" width="13.00" height="20.00" fill="#000" opacity="0.1" filter="url(#bl2)"/>
<rect x="433.10" y="183.80" width="12.40" height="4.00" rx="2.00" fill="#000" opacity="0.95" filter="url(#bl1)"/>
<rect x="448.80" y="184.70" width="11.40" height="3.60" rx="1.80" fill="#000" opacity="0.88" filter="url(#bl1)"/>
<rect x="462.40" y="184.70" width="13.40" height="5.40" rx="2.70" fill="#000" opacity="1.00" filter="url(#bl1)"/>
<rect x="477.60" y="185.10" width="13.40" height="5.40" rx="2.70" fill="#000" opacity="1.00" filter="url(#bl1)"/>
<rect x="494.60" y="186.30" width="11.00" height="3.40" rx="1.70" fill="#000" opacity="0.82" filter="url(#bl1)"/>
<rect x="509.30" y="186.00" width="12.00" height="4.00" rx="2.00" fill="#000" opacity="0.92" filter="url(#bl1)"/>
<rect x="524.20" y="186.10" width="13.60" height="5.80" rx="2.90" fill="#000" opacity="1.00" filter="url(#bl1)"/>
<rect x="539.10" y="186.20" width="13.00" height="5.60" rx="2.80" fill="#000" opacity="1.00" filter="url(#bl1)"/>
</g>
<g clip-path="url(#cC2)">
<clipPath id="cC2"><rect x="431.70" y="206.40" width="120.70" height="18.00"/></clipPath>
<rect x="431.70" y="206.40" width="120.70" height="18.00" fill="#c2c2c2"/>
<rect x="432.60" y="211.90" width="13.40" height="5.00" rx="2.50" fill="#000" opacity="1.00" filter="url(#bl1)"/>
<rect x="448.20" y="212.10" width="12.60" height="4.60" rx="2.30" fill="#000" opacity="1.00" filter="url(#bl1)"/>
<rect x="462.10" y="211.70" width="14.00" height="5.40" rx="2.70" fill="#000" opacity="1.00" filter="url(#bl1)"/>
<rect x="477.60" y="211.90" width="13.40" height="5.00" rx="2.50" fill="#000" opacity="1.00" filter="url(#bl1)"/>
<rect x="493.60" y="211.90" width="13.00" height="5.00" rx="2.50" fill="#000" opacity="1.00" filter="url(#bl1)"/>
<rect x="509.00" y="212.20" width="12.60" height="4.40" rx="2.20" fill="#000" opacity="1.00" filter="url(#bl1)"/>
<rect x="524.00" y="211.40" width="14.00" height="6.00" rx="3.00" fill="#000" opacity="1.00" filter="url(#bl1)"/>
<rect x="539.80" y="212.10" width="11.60" height="4.60" rx="2.30" fill="#000" opacity="1.00" filter="url(#bl1)"/>
</g>
<text x="408.80" y="191.00" font-size="7.8" font-weight="bold" fill="#000" textLength="21.00" lengthAdjust="spacingAndGlyphs" >57 kDa</text>
<text x="408.80" y="217.60" font-size="7.8" font-weight="bold" fill="#000" textLength="21.00" lengthAdjust="spacingAndGlyphs" >37 kDa</text>
<text x="553.30" y="189.70" font-size="7.8" font-weight="bold" fill="#000" textLength="33.00" lengthAdjust="spacingAndGlyphs" >Full-length</text>
<text x="553.30" y="198.00" font-size="7.8" font-weight="bold" fill="#000" textLength="30.70" lengthAdjust="spacingAndGlyphs" >Caspase-8</text>
<text x="553.00" y="217.20" font-size="7.8" font-weight="bold" fill="#000" textLength="26.00" lengthAdjust="spacingAndGlyphs" >GAPDH</text>
<text x="438.00" y="232.00" font-size="6.2" font-weight="bold" fill="#000" textLength="8.00" lengthAdjust="spacingAndGlyphs" >WT</text>
<text x="450.70" y="232.00" font-size="6.2" font-weight="bold" fill="#000" textLength="8.20" lengthAdjust="spacingAndGlyphs" >KO</text>
<path d="M435.00 232.50H459.30" stroke="#000" stroke-width="0.9"/>
<text x="441.05" y="239.95" font-size="6.2" font-weight="bold" fill="#000" textLength="14.70" lengthAdjust="spacingAndGlyphs" >Saline</text>
<text x="441.05" y="245.95" font-size="6.2" font-weight="bold" fill="#000" textLength="14.70" lengthAdjust="spacingAndGlyphs" >Saline</text>
<text x="465.50" y="232.00" font-size="6.2" font-weight="bold" fill="#000" textLength="8.00" lengthAdjust="spacingAndGlyphs" >WT</text>
<text x="480.10" y="232.00" font-size="6.2" font-weight="bold" fill="#000" textLength="8.20" lengthAdjust="spacingAndGlyphs" >KO</text>
<path d="M463.40 232.50H488.70" stroke="#000" stroke-width="0.9"/>
<text x="468.75" y="239.95" font-size="6.2" font-weight="bold" fill="#000" textLength="14.70" lengthAdjust="spacingAndGlyphs" >Saline</text>
<text x="467.50" y="245.95" font-size="6.2" font-weight="bold" fill="#000" textLength="18.80" lengthAdjust="spacingAndGlyphs" >dsRNA</text>
<text x="495.80" y="232.00" font-size="6.2" font-weight="bold" fill="#000" textLength="8.00" lengthAdjust="spacingAndGlyphs" >WT</text>
<text x="510.70" y="232.00" font-size="6.2" font-weight="bold" fill="#000" textLength="8.20" lengthAdjust="spacingAndGlyphs" >KO</text>
<path d="M493.40 232.50H520.00" stroke="#000" stroke-width="0.9"/>
<text x="500.10" y="239.95" font-size="6.2" font-weight="bold" fill="#000" textLength="15.20" lengthAdjust="spacingAndGlyphs" >HDM</text>
<text x="500.15" y="245.95" font-size="6.2" font-weight="bold" fill="#000" textLength="14.70" lengthAdjust="spacingAndGlyphs" >Saline</text>
<text x="527.60" y="232.00" font-size="6.2" font-weight="bold" fill="#000" textLength="8.00" lengthAdjust="spacingAndGlyphs" >WT</text>
<text x="542.90" y="232.00" font-size="6.2" font-weight="bold" fill="#000" textLength="8.20" lengthAdjust="spacingAndGlyphs" >KO</text>
<path d="M525.10 232.50H551.90" stroke="#000" stroke-width="0.9"/>
<text x="531.90" y="239.95" font-size="6.2" font-weight="bold" fill="#000" textLength="15.20" lengthAdjust="spacingAndGlyphs" >HDM</text>
<text x="530.70" y="245.95" font-size="6.2" font-weight="bold" fill="#000" textLength="18.80" lengthAdjust="spacingAndGlyphs" >dsRNA</text>
<g clip-path="url(#cD1)">
<clipPath id="cD1"><rect x="40.80" y="469.60" width="121.60" height="14.30"/></clipPath>
<rect x="40.80" y="469.60" width="121.60" height="14.30" fill="#c9c9c9"/>
<rect x="42.25" y="474.00" width="12.50" height="12.00" fill="#000" opacity="0.12" filter="url(#bl2)"/>
<rect x="57.25" y="474.00" width="12.50" height="12.00" fill="#000" opacity="0.1" filter="url(#bl2)"/>
<rect x="72.45" y="474.00" width="12.50" height="12.00" fill="#000" opacity="0.4" filter="url(#bl2)"/>
<rect x="87.65" y="474.00" width="12.50" height="12.00" fill="#000" opacity="0.42" filter="url(#bl2)"/>
<rect x="103.25" y="474.00" width="12.50" height="12.00" fill="#000" opacity="0.1" filter="url(#bl2)"/>
<rect x="118.45" y="474.00" width="12.50" height="12.00" fill="#000" opacity="0.12" filter="url(#bl2)"/>
<rect x="134.05" y="474.00" width="12.50" height="12.00" fill="#000" opacity="0.4" filter="url(#bl2)"/>
<rect x="148.85" y="474.00" width="12.50" height="12.00" fill="#000" opacity="0.34" filter="url(#bl2)"/>
<rect x="42.30" y="472.60" width="12.40" height="3.20" rx="1.60" fill="#000" opacity="0.75" filter="url(#bl1)"/>
<rect x="57.30" y="472.60" width="12.40" height="3.20" rx="1.60" fill="#000" opacity="0.60" filter="url(#bl1)"/>
<rect x="72.50" y="472.60" width="12.40" height="3.20" rx="1.60" fill="#000" opacity="0.95" filter="url(#bl1)"/>
<rect x="87.70" y="472.60" width="12.40" height="3.20" rx="1.60" fill="#000" opacity="0.95" filter="url(#bl1)"/>
<rect x="103.30" y="472.60" width="12.40" height="3.20" rx="1.60" fill="#000" opacity="0.35" filter="url(#bl1)"/>
<rect x="118.50" y="472.60" width="12.40" height="3.20" rx="1.60" fill="#000" opacity="0.42" filter="url(#bl1)"/>
<rect x="134.10" y="472.60" width="12.40" height="3.20" rx="1.60" fill="#000" opacity="0.95" filter="url(#bl1)"/>
<rect x="148.90" y="472.60" width="12.40" height="3.20" rx="1.60" fill="#000" opacity="0.65" filter="url(#bl1)"/>
</g>
<g clip-path="url(#cD2)">
<clipPath id="cD2"><rect x="40.80" y="486.40" width="121.60" height="18.30"/></clipPath>
<rect x="40.80" y="486.40" width="121.60" height="18.30" fill="#cdcdcd"/>
<rect x="41.80" y="491.80" width="13.40" height="5.00" rx="2.50" fill="#000" opacity="1.00" filter="url(#bl1)"/>
<rect x="57.20" y="492.10" width="12.60" height="4.40" rx="2.20" fill="#000" opacity="1.00" filter="url(#bl1)"/>
<rect x="71.70" y="491.60" width="14.00" height="5.40" rx="2.70" fill="#000" opacity="1.00" filter="url(#bl1)"/>
<rect x="87.20" y="491.80" width="13.40" height="5.00" rx="2.50" fill="#000" opacity="1.00" filter="url(#bl1)"/>
<rect x="103.00" y="491.80" width="13.00" height="5.00" rx="2.50" fill="#000" opacity="1.00" filter="url(#bl1)"/>
<rect x="118.40" y="492.10" width="12.60" height="4.40" rx="2.20" fill="#000" opacity="1.00" filter="url(#bl1)"/>
<rect x="133.30" y="491.30" width="14.00" height="6.00" rx="3.00" fill="#000" opacity="1.00" filter="url(#bl1)"/>
<rect x="149.30" y="492.00" width="11.60" height="4.60" rx="2.30" fill="#000" opacity="1.00" filter="url(#bl1)"/>
</g>
<text x="16.90" y="478.30" font-size="7.8" font-weight="bold" fill="#000" textLength="21.30" lengthAdjust="spacingAndGlyphs" >55 kDa</text>
<text x="16.90" y="496.60" font-size="7.8" font-weight="bold" fill="#000" textLength="21.30" lengthAdjust="spacingAndGlyphs" >37 kDa</text>
<text x="164.30" y="477.00" font-size="7.8" font-weight="bold" fill="#000" textLength="15.60" lengthAdjust="spacingAndGlyphs" >RIP3</text>
<text x="164.00" y="499.00" font-size="7.8" font-weight="bold" fill="#000" textLength="25.60" lengthAdjust="spacingAndGlyphs" >GAPDH</text>
<text x="45.10" y="512.00" font-size="6.2" font-weight="bold" fill="#000" textLength="8.00" lengthAdjust="spacingAndGlyphs" >WT</text>
<text x="57.50" y="512.00" font-size="6.2" font-weight="bold" fill="#000" textLength="8.20" lengthAdjust="spacingAndGlyphs" >KO</text>
<path d="M42.10 512.50H66.40" stroke="#000" stroke-width="0.9"/>
<text x="47.35" y="519.95" font-size="6.2" font-weight="bold" fill="#000" textLength="14.70" lengthAdjust="spacingAndGlyphs" >Saline</text>
<text x="47.35" y="525.95" font-size="6.2" font-weight="bold" fill="#000" textLength="14.70" lengthAdjust="spacingAndGlyphs" >Saline</text>
<text x="73.60" y="512.00" font-size="6.2" font-weight="bold" fill="#000" textLength="8.00" lengthAdjust="spacingAndGlyphs" >WT</text>
<text x="87.40" y="512.00" font-size="6.2" font-weight="bold" fill="#000" textLength="8.20" lengthAdjust="spacingAndGlyphs" >KO</text>
<path d="M71.70 512.50H95.80" stroke="#000" stroke-width="0.9"/>
<text x="75.85" y="519.95" font-size="6.2" font-weight="bold" fill="#000" textLength="14.70" lengthAdjust="spacingAndGlyphs" >Saline</text>
<text x="74.00" y="525.95" font-size="6.2" font-weight="bold" fill="#000" textLength="18.80" lengthAdjust="spacingAndGlyphs" >dsRNA</text>
<text x="102.90" y="512.00" font-size="6.2" font-weight="bold" fill="#000" textLength="8.00" lengthAdjust="spacingAndGlyphs" >WT</text>
<text x="118.50" y="512.00" font-size="6.2" font-weight="bold" fill="#000" textLength="8.20" lengthAdjust="spacingAndGlyphs" >KO</text>
<path d="M100.50 512.50H127.10" stroke="#000" stroke-width="0.9"/>
<text x="107.20" y="519.95" font-size="6.2" font-weight="bold" fill="#000" textLength="15.20" lengthAdjust="spacingAndGlyphs" >HDM</text>
<text x="107.15" y="525.95" font-size="6.2" font-weight="bold" fill="#000" textLength="14.70" lengthAdjust="spacingAndGlyphs" >Saline</text>
<text x="134.70" y="512.00" font-size="6.2" font-weight="bold" fill="#000" textLength="8.00" lengthAdjust="spacingAndGlyphs" >WT</text>
<text x="149.90" y="512.00" font-size="6.2" font-weight="bold" fill="#000" textLength="8.20" lengthAdjust="spacingAndGlyphs" >KO</text>
<path d="M132.40 512.50H159.00" stroke="#000" stroke-width="0.9"/>
<text x="139.00" y="519.95" font-size="6.2" font-weight="bold" fill="#000" textLength="15.20" lengthAdjust="spacingAndGlyphs" >HDM</text>
<text x="137.80" y="525.95" font-size="6.2" font-weight="bold" fill="#000" textLength="18.80" lengthAdjust="spacingAndGlyphs" >dsRNA</text>
<g clip-path="url(#cE1)">
<clipPath id="cE1"><rect x="225.60" y="463.70" width="118.30" height="19.10"/></clipPath>
<rect x="225.60" y="463.70" width="118.30" height="19.10" fill="#d2d2d2"/>
<rect x="226.55" y="462.00" width="12.50" height="22.00" fill="#000" opacity="0.13" filter="url(#bl2)"/>
<rect x="241.35" y="462.00" width="12.50" height="22.00" fill="#000" opacity="0.13" filter="url(#bl2)"/>
<rect x="256.35" y="462.00" width="12.50" height="22.00" fill="#000" opacity="0.13" filter="url(#bl2)"/>
<rect x="271.55" y="462.00" width="12.50" height="22.00" fill="#000" opacity="0.13" filter="url(#bl2)"/>
<rect x="286.95" y="462.00" width="12.50" height="22.00" fill="#000" opacity="0.13" filter="url(#bl2)"/>
<rect x="302.15" y="462.00" width="12.50" height="22.00" fill="#000" opacity="0.13" filter="url(#bl2)"/>
<rect x="317.15" y="462.00" width="12.50" height="22.00" fill="#000" opacity="0.13" filter="url(#bl2)"/>
<rect x="331.95" y="462.00" width="12.50" height="22.00" fill="#000" opacity="0.13" filter="url(#bl2)"/>
<rect x="227.30" y="474.50" width="11.00" height="3.00" rx="1.50" fill="#000" opacity="0.20" filter="url(#bl1)"/>
<rect x="242.10" y="474.50" width="11.00" height="3.00" rx="1.50" fill="#000" opacity="0.32" filter="url(#bl1)"/>
<rect x="256.90" y="473.60" width="11.40" height="3.20" rx="1.60" fill="#000" opacity="0.38" filter="url(#bl1)"/>
<rect x="272.10" y="473.00" width="11.40" height="3.20" rx="1.60" fill="#000" opacity="0.36" filter="url(#bl1)"/>
<rect x="287.20" y="471.60" width="12.00" height="3.60" rx="1.80" fill="#000" opacity="0.55" filter="url(#bl1)"/>
<rect x="301.60" y="469.30" width="13.60" height="7.40" rx="3.70" fill="#000" opacity="1.00" filter="url(#bl1)"/>
<rect x="317.60" y="471.60" width="11.60" height="3.60" rx="1.80" fill="#000" opacity="0.48" filter="url(#bl1)"/>
<rect x="331.50" y="470.40" width="13.40" height="7.20" rx="3.60" fill="#000" opacity="1.00" filter="url(#bl1)"/>
<rect x="227.30" y="480.40" width="11.00" height="2.40" rx="1.20" fill="#000" opacity="0.05" filter="url(#bl1)"/>
<rect x="242.10" y="480.40" width="11.00" height="2.40" rx="1.20" fill="#000" opacity="0.08" filter="url(#bl1)"/>
<rect x="257.10" y="480.40" width="11.00" height="2.40" rx="1.20" fill="#000" opacity="0.10" filter="url(#bl1)"/>
<rect x="272.30" y="480.40" width="11.00" height="2.40" rx="1.20" fill="#000" opacity="0.20" filter="url(#bl1)"/>
<rect x="287.70" y="480.40" width="11.00" height="2.40" rx="1.20" fill="#000" opacity="0.16" filter="url(#bl1)"/>
<rect x="302.90" y="480.40" width="11.00" height="2.40" rx="1.20" fill="#000" opacity="0.25" filter="url(#bl1)"/>
<rect x="317.90" y="480.40" width="11.00" height="2.40" rx="1.20" fill="#000" opacity="0.16" filter="url(#bl1)"/>
<rect x="332.70" y="480.40" width="11.00" height="2.40" rx="1.20" fill="#000" opacity="0.22" filter="url(#bl1)"/>
</g>
<g clip-path="url(#cE2)">
<clipPath id="cE2"><rect x="222.70" y="486.60" width="121.20" height="14.20"/></clipPath>
<rect x="222.70" y="486.60" width="121.20" height="14.20" fill="#d6d6d6"/>
<rect x="226.50" y="491.10" width="12.60" height="4.00" rx="2.00" fill="#000" opacity="1.00" filter="url(#bl1)"/>
<rect x="241.30" y="491.10" width="12.60" height="4.00" rx="2.00" fill="#000" opacity="1.00" filter="url(#bl1)"/>
<rect x="256.10" y="490.60" width="13.00" height="4.40" rx="2.20" fill="#000" opacity="1.00" filter="url(#bl1)"/>
<rect x="271.00" y="490.70" width="13.60" height="5.00" rx="2.50" fill="#000" opacity="1.00" filter="url(#bl1)"/>
<rect x="286.40" y="490.30" width="13.60" height="5.00" rx="2.50" fill="#000" opacity="1.00" filter="url(#bl1)"/>
<rect x="302.40" y="492.00" width="12.00" height="4.00" rx="2.00" fill="#000" opacity="1.00" filter="url(#bl1)"/>
<rect x="317.40" y="492.60" width="12.00" height="4.00" rx="2.00" fill="#000" opacity="1.00" filter="url(#bl1)"/>
<rect x="332.20" y="493.70" width="12.00" height="4.60" rx="2.30" fill="#000" opacity="1.00" filter="url(#bl1)"/>
</g>
<text x="202.40" y="477.40" font-size="7.8" font-weight="bold" fill="#000" textLength="21.50" lengthAdjust="spacingAndGlyphs" >54 kDa</text>
<text x="200.20" y="497.70" font-size="7.8" font-weight="bold" fill="#000" textLength="21.20" lengthAdjust="spacingAndGlyphs" >37 kDa</text>
<text x="345.50" y="477.20" font-size="7.8" font-weight="bold" fill="#000" textLength="25.30" lengthAdjust="spacingAndGlyphs" >pMLKL</text>
<text x="344.60" y="496.30" font-size="7.8" font-weight="bold" fill="#000" textLength="26.60" lengthAdjust="spacingAndGlyphs" >GAPDH</text>
<text x="229.50" y="512.20" font-size="6.2" font-weight="bold" fill="#000" textLength="8.00" lengthAdjust="spacingAndGlyphs" >WT</text>
<text x="241.70" y="512.20" font-size="6.2" font-weight="bold" fill="#000" textLength="8.20" lengthAdjust="spacingAndGlyphs" >KO</text>
<path d="M226.50 512.70H250.30" stroke="#000" stroke-width="0.9"/>
<text x="232.75" y="519.95" font-size="6.2" font-weight="bold" fill="#000" textLength="14.70" lengthAdjust="spacingAndGlyphs" >Saline</text>
<text x="232.75" y="525.95" font-size="6.2" font-weight="bold" fill="#000" textLength="14.70" lengthAdjust="spacingAndGlyphs" >Saline</text>
<text x="257.50" y="512.20" font-size="6.2" font-weight="bold" fill="#000" textLength="8.00" lengthAdjust="spacingAndGlyphs" >WT</text>
<text x="272.00" y="512.20" font-size="6.2" font-weight="bold" fill="#000" textLength="8.20" lengthAdjust="spacingAndGlyphs" >KO</text>
<path d="M255.40 512.70H280.60" stroke="#000" stroke-width="0.9"/>
<text x="260.45" y="519.95" font-size="6.2" font-weight="bold" fill="#000" textLength="14.70" lengthAdjust="spacingAndGlyphs" >Saline</text>
<text x="259.30" y="525.95" font-size="6.2" font-weight="bold" fill="#000" textLength="18.80" lengthAdjust="spacingAndGlyphs" >dsRNA</text>
<text x="288.00" y="512.20" font-size="6.2" font-weight="bold" fill="#000" textLength="8.00" lengthAdjust="spacingAndGlyphs" >WT</text>
<text x="302.80" y="512.20" font-size="6.2" font-weight="bold" fill="#000" textLength="8.20" lengthAdjust="spacingAndGlyphs" >KO</text>
<path d="M285.80 512.70H311.40" stroke="#000" stroke-width="0.9"/>
<text x="292.00" y="519.95" font-size="6.2" font-weight="bold" fill="#000" textLength="15.20" lengthAdjust="spacingAndGlyphs" >HDM</text>
<text x="292.05" y="525.95" font-size="6.2" font-weight="bold" fill="#000" textLength="14.70" lengthAdjust="spacingAndGlyphs" >Saline</text>
<text x="319.50" y="512.20" font-size="6.2" font-weight="bold" fill="#000" textLength="8.00" lengthAdjust="spacingAndGlyphs" >WT</text>
<text x="334.70" y="512.20" font-size="6.2" font-weight="bold" fill="#000" textLength="8.20" lengthAdjust="spacingAndGlyphs" >KO</text>
<path d="M317.30 512.70H343.60" stroke="#000" stroke-width="0.9"/>
<text x="323.70" y="519.95" font-size="6.2" font-weight="bold" fill="#000" textLength="15.20" lengthAdjust="spacingAndGlyphs" >HDM</text>
<text x="322.50" y="525.95" font-size="6.2" font-weight="bold" fill="#000" textLength="18.80" lengthAdjust="spacingAndGlyphs" >dsRNA</text>
<text x="379.30" y="277.70" font-size="15.5" font-weight="bold" fill="#000" >F</text>
<text x="441.60" y="272.60" font-size="15.3" font-weight="bold" fill="#000" textLength="25.00" lengthAdjust="spacingAndGlyphs" >WT</text>
<text x="576.9" y="272.6" font-size="15.3" font-weight="bold" textLength="57.9" lengthAdjust="spacingAndGlyphs">IFN-<tspan font-weight="normal">β</tspan><tspan dy="-5.6" font-size="13.5" font-weight="normal">-/-</tspan></text>
<text x="384.40" y="345.40" font-size="13.4" font-weight="bold" fill="#000" textLength="29.20" lengthAdjust="spacingAndGlyphs" transform="rotate(-90 384.40 345.40)" >DAPI</text>
<text x="383.30" y="447.60" font-size="12.8" font-weight="bold" fill="#000" textLength="27.60" lengthAdjust="spacingAndGlyphs" transform="rotate(-90 383.30 447.60)" >FITC</text>
<text x="385.40" y="562.60" font-size="13.4" font-weight="bold" fill="#000" textLength="33.40" lengthAdjust="spacingAndGlyphs" transform="rotate(-90 385.40 562.60)" >Merge</text>
<text x="425.10" y="622.50" font-size="11.5" font-weight="bold" fill="#000" textLength="76.40" lengthAdjust="spacingAndGlyphs" >HDM: dsRNA</text>
<text x="565.20" y="624.60" font-size="11.5" font-weight="bold" fill="#000" textLength="76.20" lengthAdjust="spacingAndGlyphs" >HDM: dsRNA</text>
<clipPath id="f1"><rect x="391.20" y="275.00" width="136.60" height="102.70"/></clipPath>
<filter id="df1" filterUnits="userSpaceOnUse" x="387.20" y="271.00" width="144.60" height="110.70" color-interpolation-filters="sRGB">
<feGaussianBlur in="SourceGraphic" stdDeviation="1.0" result="d0"/>
<feTurbulence type="fractalNoise" baseFrequency="0.06" numOctaves="2" seed="8"/><feColorMatrix type="matrix" values="1 0 0 0 0  0 1 0 0 0  0 0 1 0 0  0 0 0 0 1" result="n2"/>
<feComposite in="d0" in2="n2" operator="arithmetic" k1="0" k2="1" k3="1.1" k4="-0.550" result="d"/>
<feTurbulence type="fractalNoise" baseFrequency="0.42" numOctaves="2" seed="3"/><feColorMatrix type="matrix" values="1 0 0 0 0  0 1 0 0 0  0 0 1 0 0  0 0 0 0 1" result="n1"/>
<feComposite in="n1" in2="d" operator="arithmetic" k1="3.6" k2="0" k3="-0.55" k4="-0.3" result="c"/>
<feColorMatrix type="matrix" values="0.06 0 0 0 0.01  0.045 0 0 0 0.005  0.47 0 0 0 0.035  0 0 0 0 1"/>
</filter>
<g clip-path="url(#f1)">
<g filter="url(#df1)">
<rect x="387.20" y="271.00" width="144.60" height="110.70" fill="#707070"/>
<ellipse cx="403.49" cy="287.32" rx="9.56" ry="10.27" fill="#2c2c2c"/>
<ellipse cx="429.45" cy="287.32" rx="9.56" ry="8.22" fill="#2c2c2c"/>
<ellipse cx="481.36" cy="314.03" rx="5.46" ry="7.19" fill="#2c2c2c"/>
<ellipse cx="482.72" cy="334.57" rx="6.83" ry="6.16" fill="#2c2c2c"/>
<ellipse cx="404.86" cy="352.02" rx="6.83" ry="8.22" fill="#2c2c2c"/>
<ellipse cx="432.18" cy="357.16" rx="5.46" ry="6.16" fill="#2c2c2c"/>
<ellipse cx="500.48" cy="352.02" rx="5.46" ry="5.13" fill="#2c2c2c"/>
<ellipse cx="466.33" cy="290.40" rx="4.10" ry="4.11" fill="#2c2c2c"/>
<path d="M6.5 41 C9 37 12.7 35 16 36.5 C20 38.5 24 37 28 35 C32 32.5 36 31 40 32.5 C44 34 45 40 44.4 44.3 C44 49 43 52 40 55 C37 57.5 32 56 28 52.6 C24 49 22 46.4 18 46.4 C14 46.4 12 48 9 47 C7 46 6 43 6.5 41Z" transform="translate(391.20 275.00) scale(1.3660 1.0270)" fill="#000" stroke="#e2e2e2" stroke-width="6.4" stroke-linejoin="round" paint-order="stroke"/>
<path d="M85.5 9.5 C88 8.5 90.5 13 91.5 17.5 C93 24 96 29 95.4 34 C95 39 94 42 92.5 42 C90 42 88.6 40 88 36 C87 31 86 28 85.3 23.7 C84.5 19 83 13 85.5 9.5Z" transform="translate(391.20 275.00) scale(1.3660 1.0270)" fill="#000" stroke="#e2e2e2" stroke-width="6.4" stroke-linejoin="round" paint-order="stroke"/>
<path d="M48.2 73.2 C49.5 69 52 66 54.4 66 C57 66 58.5 68 58.3 72 C58 76 57.5 79 56.7 81.4 C55.5 85 53.5 87.6 51.3 87.6 C49 87.6 47.8 84.5 47.4 81.4 C47 78 47.5 75.5 48.2 73.2Z" transform="translate(391.20 275.00) scale(1.3660 1.0270)" fill="#000" stroke="#e2e2e2" stroke-width="6.4" stroke-linejoin="round" paint-order="stroke"/>
</g>
</g>
<clipPath id="f2"><rect x="544.10" y="274.80" width="137.90" height="103.80"/></clipPath>
<filter id="df2" filterUnits="userSpaceOnUse" x="540.10" y="270.80" width="145.90" height="111.80" color-interpolation-filters="sRGB">
<feGaussianBlur in="SourceGraphic" stdDeviation="1.0" result="d0"/>
<feTurbulence type="fractalNoise" baseFrequency="0.06" numOctaves="2" seed="16"/><feColorMatrix type="matrix" values="1 0 0 0 0  0 1 0 0 0  0 0 1 0 0  0 0 0 0 1" result="n2"/>
<feComposite in="d0" in2="n2" operator="arithmetic" k1="0" k2="1" k3="0.6" k4="-0.300" result="d"/>
<feTurbulence type="fractalNoise" baseFrequency="0.42" numOctaves="2" seed="11"/><feColorMatrix type="matrix" values="1 0 0 0 0  0 1 0 0 0  0 0 1 0 0  0 0 0 0 1" result="n1"/>
<feComposite in="n1" in2="d" operator="arithmetic" k1="3.6" k2="0" k3="-0.55" k4="-0.3" result="c"/>
<feColorMatrix type="matrix" values="0.06 0 0 0 0.01  0.045 0 0 0 0.005  0.47 0 0 0 0.035  0 0 0 0 1"/>
</filter>
<g clip-path="url(#f2)">
<g filter="url(#df2)">
<rect x="540.10" y="270.80" width="145.90" height="111.80" fill="#787878"/>
<ellipse cx="607.53" cy="281.03" rx="4.14" ry="5.19" fill="#2c2c2c"/>
<ellipse cx="651.66" cy="297.64" rx="4.14" ry="4.15" fill="#2c2c2c"/>
<ellipse cx="661.32" cy="326.70" rx="5.52" ry="5.19" fill="#2c2c2c"/>
<ellipse cx="647.52" cy="355.76" rx="6.89" ry="6.23" fill="#2c2c2c"/>
<ellipse cx="557.89" cy="331.89" rx="4.14" ry="4.15" fill="#2c2c2c"/>
<ellipse cx="672.35" cy="366.14" rx="6.89" ry="6.23" fill="#2c2c2c"/>
<path d="M25 14 C28 10 34 12 34 20 C34 26 30 29 27 27 C24 24 23 18 25 14Z" transform="translate(544.10 274.80) scale(1.3790 1.0380)" fill="#000" stroke="#e2e2e2" stroke-width="6.4" stroke-linejoin="round" paint-order="stroke"/>
<path d="M40 21 C44 16 52 20 58 19 C62 20 60 28 56 30 C50 32 44 31 41 28 C39 26 39 23 40 21Z" transform="translate(544.10 274.80) scale(1.3790 1.0380)" fill="#000" stroke="#e2e2e2" stroke-width="6.4" stroke-linejoin="round" paint-order="stroke"/>
<path d="M56 39 C60 36 68 38 68 44 C68 50 62 52 58 50 C55 47 54 42 56 39Z" transform="translate(544.10 274.80) scale(1.3790 1.0380)" fill="#000" stroke="#e2e2e2" stroke-width="6.4" stroke-linejoin="round" paint-order="stroke"/>
<path d="M25 76 C30 73 38 75 38 81 C38 87 30 88 26 86 C23 83 23 79 25 76Z" transform="translate(544.10 274.80) scale(1.3790 1.0380)" fill="#000" stroke="#e2e2e2" stroke-width="6.4" stroke-linejoin="round" paint-order="stroke"/>
<path d="M51 70 C56 67 63 72 63 79 C63 86 56 88 53 85 C49 81 49 74 51 70Z" transform="translate(544.10 274.80) scale(1.3790 1.0380)" fill="#000" stroke="#e2e2e2" stroke-width="6.4" stroke-linejoin="round" paint-order="stroke"/>
</g>
</g>
<rect x="391.00" y="385.30" width="139.30" height="104.70" fill="#010101"/>
<circle cx="448.19" cy="443.91" r="0.5" fill="#4aa830" opacity="0.40"/>
<circle cx="456.07" cy="412.73" r="0.3" fill="#4aa830" opacity="0.24"/>
<circle cx="499.19" cy="431.39" r="0.3" fill="#2c7a1c" opacity="0.37"/>
<circle cx="451.79" cy="447.85" r="0.3" fill="#2c7a1c" opacity="0.30"/>
<circle cx="484.11" cy="410.14" r="0.3" fill="#3c9a28" opacity="0.26"/>
<circle cx="492.79" cy="425.35" r="0.3" fill="#3c9a28" opacity="0.28"/>
<circle cx="454.42" cy="458.29" r="0.3" fill="#2c7a1c" opacity="0.31"/>
<circle cx="477.19" cy="424.77" r="0.5" fill="#3c9a28" opacity="0.27"/>
<circle cx="500.00" cy="426.50" r="0.4" fill="#2c7a1c" opacity="0.23"/>
<circle cx="445.27" cy="452.50" r="0.4" fill="#3c9a28" opacity="0.32"/>
<circle cx="476.36" cy="408.28" r="0.5" fill="#4aa830" opacity="0.42"/>
<circle cx="501.45" cy="429.16" r="0.4" fill="#2c7a1c" opacity="0.42"/>
<circle cx="453.86" cy="451.92" r="0.3" fill="#3c9a28" opacity="0.30"/>
<circle cx="490.72" cy="409.84" r="0.4" fill="#2c7a1c" opacity="0.23"/>
<circle cx="497.04" cy="422.32" r="0.5" fill="#3c9a28" opacity="0.35"/>
<circle cx="451.01" cy="443.18" r="0.3" fill="#3c9a28" opacity="0.43"/>
<circle cx="489.82" cy="409.27" r="0.4" fill="#4aa830" opacity="0.32"/>
<circle cx="483.58" cy="425.78" r="0.3" fill="#4aa830" opacity="0.43"/>
<circle cx="454.31" cy="441.17" r="0.3" fill="#2c7a1c" opacity="0.49"/>
<circle cx="478.21" cy="417.21" r="0.5" fill="#2c7a1c" opacity="0.48"/>
<circle cx="487.00" cy="437.22" r="0.5" fill="#3c9a28" opacity="0.31"/>
<circle cx="451.40" cy="450.21" r="0.3" fill="#4aa830" opacity="0.27"/>
<circle cx="461.25" cy="398.18" r="0.3" fill="#4aa830" opacity="0.24"/>
<circle cx="504.05" cy="426.64" r="0.4" fill="#3c9a28" opacity="0.29"/>
<circle cx="446.88" cy="444.30" r="0.4" fill="#4aa830" opacity="0.34"/>
<circle cx="489.27" cy="418.61" r="0.3" fill="#2c7a1c" opacity="0.32"/>
<circle cx="500.71" cy="441.41" r="0.5" fill="#3c9a28" opacity="0.40"/>
<circle cx="452.68" cy="446.43" r="0.4" fill="#2c7a1c" opacity="0.27"/>
<circle cx="475.71" cy="410.99" r="0.4" fill="#4aa830" opacity="0.46"/>
<circle cx="503.05" cy="426.32" r="0.4" fill="#4aa830" opacity="0.43"/>
<circle cx="449.43" cy="448.52" r="0.4" fill="#3c9a28" opacity="0.26"/>
<circle cx="476.30" cy="408.82" r="0.3" fill="#4aa830" opacity="0.48"/>
<circle cx="498.44" cy="424.74" r="0.4" fill="#2c7a1c" opacity="0.37"/>
<circle cx="448.36" cy="446.83" r="0.3" fill="#2c7a1c" opacity="0.42"/>
<circle cx="464.54" cy="407.04" r="0.4" fill="#4aa830" opacity="0.42"/>
<circle cx="493.93" cy="433.10" r="0.5" fill="#4aa830" opacity="0.31"/>
<circle cx="457.04" cy="446.34" r="0.5" fill="#3c9a28" opacity="0.36"/>
<circle cx="472.90" cy="410.02" r="0.4" fill="#2c7a1c" opacity="0.30"/>
<circle cx="485.05" cy="427.16" r="0.4" fill="#2c7a1c" opacity="0.30"/>
<circle cx="447.66" cy="455.24" r="0.4" fill="#2c7a1c" opacity="0.48"/>
<circle cx="479.65" cy="423.91" r="0.4" fill="#2c7a1c" opacity="0.49"/>
<circle cx="486.98" cy="426.45" r="0.3" fill="#3c9a28" opacity="0.46"/>
<circle cx="455.96" cy="446.52" r="0.5" fill="#3c9a28" opacity="0.42"/>
<circle cx="471.16" cy="411.43" r="0.5" fill="#4aa830" opacity="0.41"/>
<circle cx="486.92" cy="430.67" r="0.5" fill="#2c7a1c" opacity="0.42"/>
<circle cx="454.32" cy="448.49" r="0.4" fill="#4aa830" opacity="0.40"/>
<circle cx="474.25" cy="422.43" r="0.5" fill="#4aa830" opacity="0.24"/>
<circle cx="490.57" cy="427.85" r="0.3" fill="#3c9a28" opacity="0.26"/>
<circle cx="525.84" cy="435.83" r="0.5" fill="#3c9a28" opacity="0.34"/>
<circle cx="439.91" cy="454.67" r="0.3" fill="#4aa830" opacity="0.28"/>
<circle cx="491.02" cy="424.46" r="0.4" fill="#2c7a1c" opacity="0.49"/>
<circle cx="510.22" cy="476.01" r="0.5" fill="#4aa830" opacity="0.33"/>
<circle cx="396.02" cy="449.54" r="0.3" fill="#2c7a1c" opacity="0.37"/>
<circle cx="438.27" cy="446.12" r="0.4" fill="#3c9a28" opacity="0.34"/>
<circle cx="504.25" cy="452.55" r="0.4" fill="#2c7a1c" opacity="0.26"/>
<circle cx="474.01" cy="444.34" r="0.3" fill="#3c9a28" opacity="0.39"/>
<circle cx="439.91" cy="478.85" r="0.3" fill="#2c7a1c" opacity="0.25"/>
<circle cx="469.82" cy="449.71" r="0.3" fill="#2c7a1c" opacity="0.40"/>
<circle cx="515.16" cy="424.65" r="0.4" fill="#3c9a28" opacity="0.36"/>
<circle cx="457.80" cy="459.46" r="0.4" fill="#3c9a28" opacity="0.39"/>
<circle cx="427.19" cy="488.01" r="0.4" fill="#2c7a1c" opacity="0.34"/>
<circle cx="435.46" cy="488.35" r="0.4" fill="#2c7a1c" opacity="0.26"/>
<circle cx="394.31" cy="454.41" r="0.4" fill="#3c9a28" opacity="0.31"/>
<circle cx="499.89" cy="471.87" r="0.3" fill="#2c7a1c" opacity="0.37"/>
<circle cx="429.14" cy="483.22" r="0.3" fill="#3c9a28" opacity="0.36"/>
<circle cx="508.56" cy="460.84" r="0.4" fill="#2c7a1c" opacity="0.36"/>
<circle cx="393.25" cy="398.50" r="0.4" fill="#4aa830" opacity="0.42"/>
<circle cx="476.47" cy="461.86" r="0.3" fill="#2c7a1c" opacity="0.32"/>
<circle cx="485.97" cy="470.38" r="0.3" fill="#3c9a28" opacity="0.23"/>
<circle cx="468.06" cy="457.10" r="0.3" fill="#4aa830" opacity="0.38"/>
<circle cx="393.03" cy="466.80" r="0.4" fill="#4aa830" opacity="0.38"/>
<circle cx="489.65" cy="451.50" r="0.4" fill="#2c7a1c" opacity="0.36"/>
<circle cx="486.05" cy="460.64" r="0.4" fill="#2c7a1c" opacity="0.45"/>
<circle cx="400.20" cy="472.86" r="0.5" fill="#2c7a1c" opacity="0.39"/>
<circle cx="481.32" cy="434.77" r="0.4" fill="#3c9a28" opacity="0.27"/>
<circle cx="487.85" cy="478.35" r="0.4" fill="#4aa830" opacity="0.27"/>
<circle cx="472.61" cy="470.30" r="0.3" fill="#4aa830" opacity="0.29"/>
<circle cx="505.17" cy="468.20" r="0.5" fill="#3c9a28" opacity="0.32"/>
<circle cx="450.81" cy="392.49" r="0.4" fill="#4aa830" opacity="0.36"/>
<rect x="543.10" y="384.80" width="139.30" height="104.80" fill="#010101"/>
<circle cx="580.30" cy="430.45" r="0.3" fill="#4cb030" opacity="0.57"/>
<circle cx="598.69" cy="442.69" r="0.5" fill="#4cb030" opacity="0.39"/>
<circle cx="609.57" cy="451.44" r="0.5" fill="#3c9028" opacity="0.34"/>
<circle cx="622.00" cy="388.53" r="0.4" fill="#4cb030" opacity="0.34"/>
<circle cx="598.15" cy="425.33" r="0.5" fill="#4cb030" opacity="0.54"/>
<circle cx="578.88" cy="436.92" r="0.3" fill="#3c9028" opacity="0.35"/>
<circle cx="592.45" cy="451.62" r="0.3" fill="#3c9028" opacity="0.59"/>
<circle cx="597.55" cy="456.29" r="0.3" fill="#4cb030" opacity="0.52"/>
<circle cx="618.40" cy="391.20" r="0.4" fill="#3c9028" opacity="0.33"/>
<circle cx="596.60" cy="431.44" r="0.3" fill="#5cc040" opacity="0.28"/>
<circle cx="585.18" cy="423.97" r="0.3" fill="#3c9028" opacity="0.28"/>
<circle cx="597.97" cy="445.71" r="0.3" fill="#5cc040" opacity="0.31"/>
<circle cx="589.06" cy="454.16" r="0.4" fill="#4cb030" opacity="0.41"/>
<circle cx="614.74" cy="390.02" r="0.5" fill="#4cb030" opacity="0.34"/>
<circle cx="587.87" cy="417.94" r="0.3" fill="#3c9028" opacity="0.47"/>
<circle cx="582.71" cy="426.23" r="0.4" fill="#5cc040" opacity="0.62"/>
<circle cx="594.00" cy="442.41" r="0.5" fill="#3c9028" opacity="0.60"/>
<circle cx="602.24" cy="459.71" r="0.3" fill="#5cc040" opacity="0.40"/>
<circle cx="613.83" cy="387.36" r="0.5" fill="#4cb030" opacity="0.57"/>
<circle cx="602.69" cy="430.14" r="0.4" fill="#3c9028" opacity="0.35"/>
<circle cx="588.63" cy="445.68" r="0.5" fill="#4cb030" opacity="0.41"/>
<circle cx="590.27" cy="442.32" r="0.3" fill="#4cb030" opacity="0.35"/>
<circle cx="600.35" cy="461.61" r="0.4" fill="#5cc040" opacity="0.38"/>
<circle cx="614.60" cy="390.97" r="0.4" fill="#5cc040" opacity="0.55"/>
<circle cx="589.46" cy="424.73" r="0.3" fill="#5cc040" opacity="0.53"/>
<circle cx="581.74" cy="431.23" r="0.4" fill="#5cc040" opacity="0.41"/>
<circle cx="594.72" cy="438.56" r="0.5" fill="#3c9028" opacity="0.34"/>
<circle cx="603.99" cy="451.26" r="0.3" fill="#4cb030" opacity="0.37"/>
<circle cx="616.26" cy="392.45" r="0.3" fill="#4cb030" opacity="0.30"/>
<circle cx="589.04" cy="426.88" r="0.4" fill="#5cc040" opacity="0.28"/>
<circle cx="586.09" cy="423.09" r="0.4" fill="#5cc040" opacity="0.37"/>
<circle cx="601.69" cy="440.37" r="0.4" fill="#5cc040" opacity="0.32"/>
<circle cx="598.90" cy="455.09" r="0.5" fill="#3c9028" opacity="0.48"/>
<circle cx="616.87" cy="386.70" r="0.4" fill="#5cc040" opacity="0.58"/>
<circle cx="594.12" cy="424.69" r="0.3" fill="#3c9028" opacity="0.46"/>
<circle cx="588.07" cy="437.98" r="0.3" fill="#4cb030" opacity="0.55"/>
<circle cx="590.66" cy="443.28" r="0.3" fill="#3c9028" opacity="0.43"/>
<circle cx="596.46" cy="452.46" r="0.3" fill="#5cc040" opacity="0.44"/>
<circle cx="618.79" cy="389.80" r="0.5" fill="#4cb030" opacity="0.48"/>
<circle cx="592.19" cy="422.33" r="0.4" fill="#5cc040" opacity="0.46"/>
<circle cx="579.42" cy="418.65" r="0.5" fill="#5cc040" opacity="0.46"/>
<circle cx="586.98" cy="450.44" r="0.5" fill="#4cb030" opacity="0.31"/>
<circle cx="599.70" cy="449.59" r="0.4" fill="#5cc040" opacity="0.53"/>
<circle cx="615.24" cy="390.40" r="0.3" fill="#3c9028" opacity="0.36"/>
<circle cx="599.03" cy="418.55" r="0.5" fill="#3c9028" opacity="0.58"/>
<circle cx="591.30" cy="431.03" r="0.5" fill="#4cb030" opacity="0.51"/>
<circle cx="588.27" cy="443.54" r="0.3" fill="#4cb030" opacity="0.49"/>
<circle cx="602.46" cy="455.36" r="0.4" fill="#5cc040" opacity="0.44"/>
<circle cx="614.91" cy="390.93" r="0.3" fill="#3c9028" opacity="0.31"/>
<circle cx="594.01" cy="428.84" r="0.4" fill="#5cc040" opacity="0.33"/>
<circle cx="580.69" cy="434.31" r="0.3" fill="#4cb030" opacity="0.58"/>
<circle cx="586.84" cy="437.39" r="0.3" fill="#4cb030" opacity="0.61"/>
<circle cx="603.03" cy="454.84" r="0.3" fill="#5cc040" opacity="0.61"/>
<circle cx="612.35" cy="394.80" r="0.4" fill="#5cc040" opacity="0.46"/>
<circle cx="591.99" cy="428.97" r="0.3" fill="#4cb030" opacity="0.37"/>
<circle cx="581.68" cy="428.27" r="0.4" fill="#3c9028" opacity="0.60"/>
<circle cx="593.68" cy="442.78" r="0.4" fill="#4cb030" opacity="0.59"/>
<circle cx="596.82" cy="454.53" r="0.3" fill="#5cc040" opacity="0.30"/>
<circle cx="615.17" cy="393.71" r="0.3" fill="#3c9028" opacity="0.55"/>
<circle cx="603.91" cy="419.02" r="0.4" fill="#4cb030" opacity="0.29"/>
<circle cx="580.19" cy="431.65" r="0.4" fill="#3c9028" opacity="0.47"/>
<circle cx="601.24" cy="434.91" r="0.4" fill="#4cb030" opacity="0.31"/>
<circle cx="599.64" cy="458.43" r="0.5" fill="#3c9028" opacity="0.43"/>
<circle cx="616.64" cy="394.03" r="0.4" fill="#4cb030" opacity="0.34"/>
<circle cx="593.43" cy="423.89" r="0.5" fill="#3c9028" opacity="0.50"/>
<circle cx="589.32" cy="436.64" r="0.4" fill="#3c9028" opacity="0.61"/>
<circle cx="577.04" cy="435.15" r="0.5" fill="#5cc040" opacity="0.41"/>
<circle cx="598.48" cy="447.16" r="0.3" fill="#4cb030" opacity="0.51"/>
<circle cx="613.77" cy="392.15" r="0.5" fill="#3c9028" opacity="0.54"/>
<circle cx="597.54" cy="419.91" r="0.4" fill="#5cc040" opacity="0.28"/>
<circle cx="587.76" cy="426.36" r="0.3" fill="#4cb030" opacity="0.61"/>
<circle cx="589.26" cy="444.55" r="0.4" fill="#4cb030" opacity="0.52"/>
<circle cx="591.78" cy="453.52" r="0.4" fill="#5cc040" opacity="0.57"/>
<circle cx="612.69" cy="393.76" r="0.3" fill="#5cc040" opacity="0.51"/>
<circle cx="593.94" cy="427.20" r="0.4" fill="#3c9028" opacity="0.47"/>
<circle cx="587.48" cy="416.71" r="0.3" fill="#5cc040" opacity="0.34"/>
<circle cx="585.44" cy="452.72" r="0.4" fill="#3c9028" opacity="0.46"/>
<circle cx="601.77" cy="449.54" r="0.3" fill="#3c9028" opacity="0.38"/>
<circle cx="612.37" cy="390.71" r="0.3" fill="#4cb030" opacity="0.39"/>
<circle cx="595.99" cy="420.75" r="0.5" fill="#4cb030" opacity="0.46"/>
<circle cx="585.90" cy="428.09" r="0.3" fill="#5cc040" opacity="0.54"/>
<circle cx="588.93" cy="440.38" r="0.3" fill="#3c9028" opacity="0.35"/>
<circle cx="590.03" cy="451.55" r="0.3" fill="#5cc040" opacity="0.35"/>
<circle cx="614.39" cy="388.06" r="0.5" fill="#4cb030" opacity="0.60"/>
<circle cx="594.99" cy="419.83" r="0.3" fill="#3c9028" opacity="0.55"/>
<circle cx="580.52" cy="433.69" r="0.5" fill="#5cc040" opacity="0.61"/>
<circle cx="575.84" cy="438.40" r="0.5" fill="#4cb030" opacity="0.58"/>
<circle cx="601.34" cy="457.12" r="0.4" fill="#5cc040" opacity="0.34"/>
<circle cx="609.18" cy="389.67" r="0.5" fill="#3c9028" opacity="0.51"/>
<circle cx="598.58" cy="424.22" r="0.3" fill="#5cc040" opacity="0.57"/>
<circle cx="582.04" cy="426.42" r="0.4" fill="#3c9028" opacity="0.52"/>
<circle cx="587.09" cy="447.04" r="0.3" fill="#3c9028" opacity="0.56"/>
<circle cx="601.79" cy="458.65" r="0.5" fill="#4cb030" opacity="0.39"/>
<circle cx="598.71" cy="415.48" r="0.4" fill="#5cc040" opacity="0.33"/>
<circle cx="575.90" cy="441.64" r="0.4" fill="#4cb030" opacity="0.38"/>
<circle cx="586.09" cy="442.82" r="0.5" fill="#5cc040" opacity="0.49"/>
<circle cx="595.08" cy="453.59" r="0.4" fill="#3c9028" opacity="0.41"/>
<circle cx="595.59" cy="418.59" r="0.4" fill="#3c9028" opacity="0.60"/>
<circle cx="592.60" cy="437.62" r="0.3" fill="#3c9028" opacity="0.52"/>
<circle cx="590.29" cy="446.82" r="0.3" fill="#4cb030" opacity="0.51"/>
<circle cx="597.79" cy="455.67" r="0.5" fill="#3c9028" opacity="0.39"/>
<circle cx="618.58" cy="389.06" r="0.3" fill="#4cb030" opacity="0.53"/>
<circle cx="596.36" cy="425.88" r="0.3" fill="#3c9028" opacity="0.57"/>
<circle cx="583.74" cy="422.13" r="0.5" fill="#5cc040" opacity="0.59"/>
<circle cx="596.39" cy="445.43" r="0.4" fill="#4cb030" opacity="0.30"/>
<circle cx="595.64" cy="451.77" r="0.4" fill="#3c9028" opacity="0.52"/>
<circle cx="616.95" cy="395.29" r="0.5" fill="#5cc040" opacity="0.45"/>
<circle cx="593.95" cy="425.97" r="0.5" fill="#3c9028" opacity="0.37"/>
<circle cx="583.57" cy="436.42" r="0.5" fill="#3c9028" opacity="0.53"/>
<circle cx="601.87" cy="449.00" r="0.5" fill="#5cc040" opacity="0.50"/>
<circle cx="597.07" cy="456.05" r="0.4" fill="#4cb030" opacity="0.62"/>
<circle cx="616.69" cy="387.58" r="0.5" fill="#4cb030" opacity="0.30"/>
<circle cx="600.92" cy="429.13" r="0.4" fill="#3c9028" opacity="0.45"/>
<circle cx="584.17" cy="431.59" r="0.4" fill="#4cb030" opacity="0.61"/>
<circle cx="609.25" cy="438.51" r="0.3" fill="#5cc040" opacity="0.29"/>
<circle cx="601.42" cy="454.48" r="0.3" fill="#5cc040" opacity="0.48"/>
<circle cx="616.70" cy="395.20" r="0.4" fill="#5cc040" opacity="0.37"/>
<circle cx="598.67" cy="424.11" r="0.3" fill="#5cc040" opacity="0.46"/>
<circle cx="581.44" cy="442.41" r="0.4" fill="#4cb030" opacity="0.35"/>
<circle cx="580.47" cy="443.74" r="0.4" fill="#5cc040" opacity="0.50"/>
<circle cx="598.31" cy="459.80" r="0.4" fill="#4cb030" opacity="0.48"/>
<circle cx="613.43" cy="388.41" r="0.3" fill="#4cb030" opacity="0.42"/>
<circle cx="597.21" cy="418.00" r="0.3" fill="#3c9028" opacity="0.33"/>
<circle cx="591.28" cy="425.85" r="0.5" fill="#3c9028" opacity="0.52"/>
<circle cx="574.37" cy="439.68" r="0.5" fill="#5cc040" opacity="0.28"/>
<circle cx="599.72" cy="460.34" r="0.3" fill="#5cc040" opacity="0.52"/>
<circle cx="615.70" cy="389.18" r="0.3" fill="#3c9028" opacity="0.45"/>
<circle cx="591.31" cy="426.43" r="0.4" fill="#3c9028" opacity="0.54"/>
<circle cx="592.07" cy="446.31" r="0.5" fill="#5cc040" opacity="0.39"/>
<circle cx="576.23" cy="443.99" r="0.4" fill="#5cc040" opacity="0.38"/>
<circle cx="607.56" cy="456.97" r="0.4" fill="#4cb030" opacity="0.49"/>
<circle cx="615.92" cy="389.97" r="0.4" fill="#4cb030" opacity="0.43"/>
<circle cx="597.84" cy="420.40" r="0.3" fill="#4cb030" opacity="0.34"/>
<circle cx="583.93" cy="425.42" r="0.3" fill="#4cb030" opacity="0.31"/>
<circle cx="581.72" cy="431.54" r="0.3" fill="#3c9028" opacity="0.58"/>
<circle cx="602.64" cy="449.47" r="0.3" fill="#4cb030" opacity="0.56"/>
<circle cx="580.18" cy="488.08" r="0.3" fill="#4cb030" opacity="0.36"/>
<circle cx="594.94" cy="408.16" r="0.5" fill="#5cc040" opacity="0.61"/>
<circle cx="646.74" cy="436.47" r="0.5" fill="#4cb030" opacity="0.42"/>
<circle cx="642.62" cy="413.03" r="0.3" fill="#3c9028" opacity="0.52"/>
<circle cx="578.61" cy="488.38" r="0.5" fill="#5cc040" opacity="0.34"/>
<circle cx="546.07" cy="447.48" r="0.3" fill="#3c9028" opacity="0.45"/>
<circle cx="626.70" cy="469.53" r="0.4" fill="#3c9028" opacity="0.47"/>
<circle cx="656.56" cy="398.91" r="0.4" fill="#4cb030" opacity="0.40"/>
<circle cx="672.70" cy="393.60" r="0.3" fill="#4cb030" opacity="0.40"/>
<circle cx="607.74" cy="423.32" r="0.3" fill="#5cc040" opacity="0.43"/>
<circle cx="667.64" cy="483.06" r="0.5" fill="#3c9028" opacity="0.37"/>
<circle cx="624.24" cy="401.31" r="0.3" fill="#3c9028" opacity="0.55"/>
<circle cx="580.30" cy="401.64" r="0.3" fill="#4cb030" opacity="0.36"/>
<circle cx="564.23" cy="478.32" r="0.5" fill="#5cc040" opacity="0.34"/>
<circle cx="553.12" cy="479.84" r="0.3" fill="#3c9028" opacity="0.52"/>
<circle cx="639.23" cy="446.44" r="0.4" fill="#4cb030" opacity="0.42"/>
<circle cx="582.27" cy="452.56" r="0.3" fill="#4cb030" opacity="0.44"/>
<circle cx="579.35" cy="423.34" r="0.3" fill="#5cc040" opacity="0.48"/>
<circle cx="582.40" cy="397.15" r="0.3" fill="#3c9028" opacity="0.58"/>
<circle cx="647.04" cy="439.54" r="0.4" fill="#3c9028" opacity="0.35"/>
<circle cx="637.29" cy="454.54" r="0.5" fill="#4cb030" opacity="0.57"/>
<circle cx="569.77" cy="464.59" r="0.5" fill="#4cb030" opacity="0.53"/>
<circle cx="545.99" cy="474.94" r="0.5" fill="#4cb030" opacity="0.53"/>
<circle cx="659.97" cy="416.23" r="0.5" fill="#3c9028" opacity="0.46"/>
<circle cx="603.84" cy="487.56" r="0.3" fill="#5cc040" opacity="0.59"/>
<circle cx="571.63" cy="394.65" r="0.3" fill="#3c9028" opacity="0.29"/>
<circle cx="658.82" cy="404.17" r="0.5" fill="#5cc040" opacity="0.37"/>
<circle cx="593.03" cy="467.16" r="0.5" fill="#3c9028" opacity="0.54"/>
<circle cx="578.94" cy="390.91" r="0.4" fill="#5cc040" opacity="0.31"/>
<circle cx="563.23" cy="419.24" r="0.3" fill="#3c9028" opacity="0.59"/>
<circle cx="622.11" cy="403.38" r="0.5" fill="#4cb030" opacity="0.42"/>
<circle cx="641.78" cy="421.36" r="0.3" fill="#4cb030" opacity="0.34"/>
<circle cx="562.94" cy="461.58" r="0.5" fill="#3c9028" opacity="0.46"/>
<circle cx="587.37" cy="461.19" r="0.4" fill="#5cc040" opacity="0.45"/>
<circle cx="572.05" cy="431.75" r="0.4" fill="#4cb030" opacity="0.42"/>
<circle cx="646.75" cy="419.90" r="0.5" fill="#4cb030" opacity="0.51"/>
<circle cx="561.94" cy="471.04" r="0.3" fill="#3c9028" opacity="0.45"/>
<circle cx="579.05" cy="437.27" r="0.4" fill="#3c9028" opacity="0.35"/>
<circle cx="652.49" cy="426.43" r="0.4" fill="#5cc040" opacity="0.41"/>
<circle cx="665.39" cy="474.64" r="0.4" fill="#5cc040" opacity="0.58"/>
<circle cx="671.84" cy="467.48" r="0.4" fill="#3c9028" opacity="0.49"/>
<circle cx="642.45" cy="448.06" r="0.3" fill="#5cc040" opacity="0.39"/>
<circle cx="648.97" cy="483.30" r="0.4" fill="#4cb030" opacity="0.61"/>
<circle cx="651.25" cy="432.68" r="0.3" fill="#3c9028" opacity="0.62"/>
<circle cx="673.05" cy="390.15" r="0.4" fill="#4cb030" opacity="0.39"/>
<circle cx="633.98" cy="396.43" r="0.5" fill="#4cb030" opacity="0.59"/>
<circle cx="584.04" cy="410.75" r="0.5" fill="#3c9028" opacity="0.57"/>
<circle cx="600.60" cy="389.98" r="0.4" fill="#3c9028" opacity="0.41"/>
<circle cx="583.92" cy="442.73" r="0.3" fill="#5cc040" opacity="0.52"/>
<circle cx="674.12" cy="428.41" r="0.5" fill="#3c9028" opacity="0.28"/>
<circle cx="569.29" cy="397.55" r="0.4" fill="#3c9028" opacity="0.52"/>
<circle cx="626.06" cy="391.40" r="0.4" fill="#3c9028" opacity="0.51"/>
<circle cx="677.68" cy="405.12" r="0.4" fill="#3c9028" opacity="0.36"/>
<circle cx="621.97" cy="423.24" r="0.3" fill="#3c9028" opacity="0.30"/>
<circle cx="625.79" cy="417.20" r="0.5" fill="#4cb030" opacity="0.41"/>
<circle cx="613.57" cy="418.72" r="0.5" fill="#3c9028" opacity="0.46"/>
<circle cx="568.42" cy="391.03" r="0.3" fill="#3c9028" opacity="0.39"/>
<circle cx="570.89" cy="395.42" r="0.5" fill="#4cb030" opacity="0.48"/>
<circle cx="673.40" cy="455.84" r="0.5" fill="#5cc040" opacity="0.58"/>
<circle cx="591.06" cy="390.92" r="0.4" fill="#4cb030" opacity="0.45"/>
<circle cx="667.73" cy="386.91" r="0.3" fill="#5cc040" opacity="0.36"/>
<circle cx="632.91" cy="482.48" r="0.4" fill="#4cb030" opacity="0.61"/>
<circle cx="585.94" cy="395.29" r="0.3" fill="#5cc040" opacity="0.55"/>
<circle cx="651.78" cy="474.17" r="0.4" fill="#4cb030" opacity="0.34"/>
<circle cx="594.65" cy="463.85" r="0.3" fill="#4cb030" opacity="0.39"/>
<circle cx="554.34" cy="475.88" r="0.5" fill="#4cb030" opacity="0.61"/>
<circle cx="557.11" cy="417.40" r="0.5" fill="#5cc040" opacity="0.53"/>
<circle cx="606.67" cy="487.08" r="0.4" fill="#4cb030" opacity="0.33"/>
<circle cx="660.39" cy="417.96" r="0.3" fill="#5cc040" opacity="0.30"/>
<circle cx="624.12" cy="450.53" r="0.5" fill="#4cb030" opacity="0.49"/>
<circle cx="557.98" cy="458.95" r="0.3" fill="#3c9028" opacity="0.29"/>
<circle cx="550.34" cy="487.38" r="0.3" fill="#5cc040" opacity="0.47"/>
<circle cx="597.91" cy="462.39" r="0.5" fill="#5cc040" opacity="0.37"/>
<circle cx="550.68" cy="409.64" r="0.4" fill="#4cb030" opacity="0.54"/>
<circle cx="546.77" cy="406.36" r="0.5" fill="#3c9028" opacity="0.39"/>
<circle cx="554.57" cy="414.49" r="0.3" fill="#4cb030" opacity="0.31"/>
<circle cx="578.10" cy="443.38" r="0.4" fill="#4cb030" opacity="0.41"/>
<circle cx="553.02" cy="487.99" r="0.5" fill="#5cc040" opacity="0.32"/>
<circle cx="595.54" cy="401.48" r="0.3" fill="#5cc040" opacity="0.59"/>
<circle cx="625.45" cy="391.66" r="0.3" fill="#5cc040" opacity="0.55"/>
<circle cx="679.21" cy="389.87" r="0.4" fill="#4cb030" opacity="0.34"/>
<circle cx="676.47" cy="480.15" r="0.3" fill="#5cc040" opacity="0.40"/>
<circle cx="585.31" cy="458.61" r="0.4" fill="#5cc040" opacity="0.58"/>
<circle cx="675.79" cy="394.31" r="0.3" fill="#3c9028" opacity="0.51"/>
<circle cx="660.86" cy="416.31" r="0.5" fill="#5cc040" opacity="0.32"/>
<circle cx="564.66" cy="432.44" r="0.4" fill="#5cc040" opacity="0.35"/>
<circle cx="670.21" cy="392.94" r="0.4" fill="#4cb030" opacity="0.33"/>
<circle cx="617.99" cy="473.00" r="0.4" fill="#4cb030" opacity="0.43"/>
<clipPath id="f3"><rect x="390.50" y="496.80" width="142.10" height="106.70"/></clipPath>
<filter id="df3" filterUnits="userSpaceOnUse" x="386.50" y="492.80" width="150.10" height="114.70" color-interpolation-filters="sRGB">
<feGaussianBlur in="SourceGraphic" stdDeviation="1.0" result="d0"/>
<feTurbulence type="fractalNoise" baseFrequency="0.06" numOctaves="2" seed="9"/><feColorMatrix type="matrix" values="1 0 0 0 0  0 1 0 0 0  0 0 1 0 0  0 0 0 0 1" result="n2"/>
<feComposite in="d0" in2="n2" operator="arithmetic" k1="0" k2="1" k3="1.1" k4="-0.550" result="d"/>
<feTurbulence type="fractalNoise" baseFrequency="0.42" numOctaves="2" seed="4"/><feColorMatrix type="matrix" values="1 0 0 0 0  0 1 0 0 0  0 0 1 0 0  0 0 0 0 1" result="n1"/>
<feComposite in="n1" in2="d" operator="arithmetic" k1="3.6" k2="0" k3="-0.55" k4="-0.3" result="c"/>
<feColorMatrix type="matrix" values="0.07 0 0 0 0.01  0.08 0 0 0 0.005  0.54 0 0 0 0.035  0 0 0 0 1"/>
</filter>
<g clip-path="url(#f3)">
<g filter="url(#df3)">
<rect x="386.50" y="492.80" width="150.10" height="114.70" fill="#707070"/>
<ellipse cx="403.29" cy="509.60" rx="9.95" ry="10.67" fill="#2c2c2c"/>
<ellipse cx="430.29" cy="509.60" rx="9.95" ry="8.54" fill="#2c2c2c"/>
<ellipse cx="484.29" cy="537.35" rx="5.68" ry="7.47" fill="#2c2c2c"/>
<ellipse cx="485.71" cy="558.69" rx="7.11" ry="6.40" fill="#2c2c2c"/>
<ellipse cx="404.71" cy="576.83" rx="7.11" ry="8.54" fill="#2c2c2c"/>
<ellipse cx="433.13" cy="582.16" rx="5.68" ry="6.40" fill="#2c2c2c"/>
<ellipse cx="504.18" cy="576.83" rx="5.68" ry="5.33" fill="#2c2c2c"/>
<ellipse cx="468.66" cy="512.81" rx="4.26" ry="4.27" fill="#2c2c2c"/>
<path d="M6.5 41 C9 37 12.7 35 16 36.5 C20 38.5 24 37 28 35 C32 32.5 36 31 40 32.5 C44 34 45 40 44.4 44.3 C44 49 43 52 40 55 C37 57.5 32 56 28 52.6 C24 49 22 46.4 18 46.4 C14 46.4 12 48 9 47 C7 46 6 43 6.5 41Z" transform="translate(390.50 496.80) scale(1.4210 1.0670)" fill="#000" stroke="#e2e2e2" stroke-width="6.4" stroke-linejoin="round" paint-order="stroke"/>
<path d="M85.5 9.5 C88 8.5 90.5 13 91.5 17.5 C93 24 96 29 95.4 34 C95 39 94 42 92.5 42 C90 42 88.6 40 88 36 C87 31 86 28 85.3 23.7 C84.5 19 83 13 85.5 9.5Z" transform="translate(390.50 496.80) scale(1.4210 1.0670)" fill="#000" stroke="#e2e2e2" stroke-width="6.4" stroke-linejoin="round" paint-order="stroke"/>
<path d="M48.2 73.2 C49.5 69 52 66 54.4 66 C57 66 58.5 68 58.3 72 C58 76 57.5 79 56.7 81.4 C55.5 85 53.5 87.6 51.3 87.6 C49 87.6 47.8 84.5 47.4 81.4 C47 78 47.5 75.5 48.2 73.2Z" transform="translate(390.50 496.80) scale(1.4210 1.0670)" fill="#000" stroke="#e2e2e2" stroke-width="6.4" stroke-linejoin="round" paint-order="stroke"/>
</g>
<circle cx="448.84" cy="556.53" r="0.5" fill="#a8c8b0" opacity="0.73"/>
<circle cx="473.97" cy="522.69" r="0.3" fill="#d0e0c0" opacity="0.41"/>
<circle cx="491.83" cy="540.26" r="0.5" fill="#a8c8b0" opacity="0.61"/>
<circle cx="455.50" cy="561.03" r="0.4" fill="#d0e0c0" opacity="0.76"/>
<circle cx="473.41" cy="523.55" r="0.3" fill="#d0e0c0" opacity="0.63"/>
<circle cx="493.52" cy="540.45" r="0.3" fill="#d0e0c0" opacity="0.70"/>
<circle cx="455.10" cy="560.26" r="0.3" fill="#78b070" opacity="0.50"/>
<circle cx="478.42" cy="537.02" r="0.5" fill="#d0e0c0" opacity="0.44"/>
<circle cx="501.69" cy="538.79" r="0.4" fill="#78b070" opacity="0.37"/>
<circle cx="445.86" cy="565.28" r="0.4" fill="#a8c8b0" opacity="0.51"/>
<circle cx="477.57" cy="520.22" r="0.5" fill="#78b070" opacity="0.39"/>
<circle cx="493.34" cy="543.08" r="0.5" fill="#78b070" opacity="0.44"/>
<circle cx="450.85" cy="561.22" r="0.4" fill="#a8c8b0" opacity="0.78"/>
<circle cx="467.49" cy="530.91" r="0.5" fill="#c0d8e0" opacity="0.52"/>
<circle cx="496.23" cy="539.14" r="0.3" fill="#d0e0c0" opacity="0.63"/>
<circle cx="454.74" cy="560.29" r="0.3" fill="#c0d8e0" opacity="0.51"/>
<circle cx="466.56" cy="531.82" r="0.4" fill="#a8c8b0" opacity="0.62"/>
<circle cx="498.39" cy="534.47" r="0.4" fill="#a8c8b0" opacity="0.55"/>
<circle cx="455.43" cy="560.47" r="0.5" fill="#78b070" opacity="0.76"/>
<circle cx="462.55" cy="536.91" r="0.5" fill="#a8c8b0" opacity="0.50"/>
<circle cx="495.27" cy="542.53" r="0.3" fill="#d0e0c0" opacity="0.68"/>
<circle cx="451.54" cy="564.82" r="0.5" fill="#a8c8b0" opacity="0.40"/>
<circle cx="457.32" cy="519.52" r="0.3" fill="#d0e0c0" opacity="0.69"/>
<circle cx="494.08" cy="542.85" r="0.5" fill="#c0d8e0" opacity="0.42"/>
<circle cx="458.05" cy="560.12" r="0.4" fill="#78b070" opacity="0.73"/>
<circle cx="482.35" cy="533.01" r="0.3" fill="#c0d8e0" opacity="0.41"/>
<circle cx="493.37" cy="540.69" r="0.4" fill="#78b070" opacity="0.42"/>
<circle cx="457.39" cy="558.37" r="0.3" fill="#c0d8e0" opacity="0.78"/>
<circle cx="470.12" cy="522.35" r="0.4" fill="#78b070" opacity="0.57"/>
<circle cx="499.91" cy="537.97" r="0.5" fill="#d0e0c0" opacity="0.64"/>
<circle cx="449.79" cy="560.83" r="0.3" fill="#c0d8e0" opacity="0.48"/>
<circle cx="476.34" cy="516.17" r="0.4" fill="#a8c8b0" opacity="0.71"/>
<circle cx="498.78" cy="531.36" r="0.5" fill="#a8c8b0" opacity="0.69"/>
<circle cx="449.40" cy="565.23" r="0.4" fill="#c0d8e0" opacity="0.48"/>
<circle cx="486.35" cy="525.67" r="0.4" fill="#d0e0c0" opacity="0.62"/>
<circle cx="505.99" cy="539.97" r="0.4" fill="#78b070" opacity="0.66"/>
<circle cx="446.66" cy="562.41" r="0.5" fill="#78b070" opacity="0.51"/>
<circle cx="464.30" cy="519.81" r="0.4" fill="#78b070" opacity="0.77"/>
<circle cx="503.75" cy="548.95" r="0.4" fill="#78b070" opacity="0.78"/>
<circle cx="448.69" cy="560.30" r="0.3" fill="#d0e0c0" opacity="0.73"/>
<circle cx="481.89" cy="524.35" r="0.5" fill="#a8c8b0" opacity="0.68"/>
<circle cx="496.54" cy="536.23" r="0.5" fill="#c0d8e0" opacity="0.49"/>
<circle cx="446.28" cy="558.36" r="0.4" fill="#a8c8b0" opacity="0.45"/>
<circle cx="462.71" cy="522.82" r="0.3" fill="#d0e0c0" opacity="0.69"/>
<circle cx="501.86" cy="547.18" r="0.4" fill="#d0e0c0" opacity="0.43"/>
<circle cx="454.36" cy="559.68" r="0.3" fill="#c0d8e0" opacity="0.45"/>
<circle cx="482.22" cy="528.00" r="0.4" fill="#a8c8b0" opacity="0.62"/>
<circle cx="498.25" cy="550.98" r="0.3" fill="#78b070" opacity="0.54"/>
<circle cx="452.37" cy="564.60" r="0.3" fill="#78b070" opacity="0.78"/>
<circle cx="466.05" cy="525.28" r="0.4" fill="#78b070" opacity="0.78"/>
<circle cx="495.30" cy="544.26" r="0.3" fill="#c0d8e0" opacity="0.54"/>
<circle cx="448.96" cy="559.00" r="0.4" fill="#d0e0c0" opacity="0.43"/>
<circle cx="465.73" cy="530.76" r="0.3" fill="#d0e0c0" opacity="0.63"/>
<circle cx="488.15" cy="548.57" r="0.3" fill="#c0d8e0" opacity="0.41"/>
<circle cx="448.53" cy="558.75" r="0.3" fill="#78b070" opacity="0.64"/>
<circle cx="479.34" cy="523.41" r="0.4" fill="#d0e0c0" opacity="0.58"/>
<circle cx="486.01" cy="540.55" r="0.4" fill="#d0e0c0" opacity="0.62"/>
<circle cx="452.41" cy="571.31" r="0.4" fill="#78b070" opacity="0.54"/>
<circle cx="462.57" cy="540.62" r="0.4" fill="#78b070" opacity="0.42"/>
<circle cx="507.40" cy="540.65" r="0.4" fill="#d0e0c0" opacity="0.49"/>
<circle cx="454.34" cy="553.97" r="0.3" fill="#c0d8e0" opacity="0.59"/>
<circle cx="469.95" cy="539.02" r="0.3" fill="#d0e0c0" opacity="0.58"/>
<circle cx="503.40" cy="532.39" r="0.4" fill="#78b070" opacity="0.58"/>
<circle cx="457.31" cy="560.61" r="0.5" fill="#a8c8b0" opacity="0.37"/>
<circle cx="477.80" cy="529.77" r="0.5" fill="#78b070" opacity="0.63"/>
<circle cx="496.88" cy="538.25" r="0.4" fill="#78b070" opacity="0.66"/>
<circle cx="453.75" cy="558.98" r="0.3" fill="#78b070" opacity="0.60"/>
<circle cx="471.32" cy="524.34" r="0.5" fill="#d0e0c0" opacity="0.37"/>
<circle cx="498.41" cy="533.93" r="0.5" fill="#c0d8e0" opacity="0.74"/>
<circle cx="455.21" cy="557.25" r="0.5" fill="#d0e0c0" opacity="0.76"/>
<circle cx="458.90" cy="528.63" r="0.4" fill="#a8c8b0" opacity="0.67"/>
<circle cx="491.75" cy="541.28" r="0.4" fill="#78b070" opacity="0.42"/>
<circle cx="448.58" cy="561.46" r="0.4" fill="#78b070" opacity="0.60"/>
<circle cx="463.42" cy="529.68" r="0.3" fill="#a8c8b0" opacity="0.68"/>
<circle cx="496.75" cy="541.72" r="0.3" fill="#a8c8b0" opacity="0.51"/>
<circle cx="451.51" cy="504.13" r="0.4" fill="#c0d8e0" opacity="0.38"/>
<circle cx="510.16" cy="520.19" r="0.5" fill="#a8c8b0" opacity="0.67"/>
<circle cx="409.63" cy="528.01" r="0.4" fill="#d0e0c0" opacity="0.44"/>
<circle cx="416.83" cy="582.38" r="0.3" fill="#d0e0c0" opacity="0.38"/>
<circle cx="405.88" cy="537.26" r="0.3" fill="#78b070" opacity="0.39"/>
<circle cx="472.24" cy="576.01" r="0.5" fill="#d0e0c0" opacity="0.36"/>
<circle cx="403.49" cy="569.94" r="0.4" fill="#c0d8e0" opacity="0.52"/>
<circle cx="483.74" cy="594.41" r="0.3" fill="#78b070" opacity="0.43"/>
<circle cx="480.21" cy="550.77" r="0.5" fill="#d0e0c0" opacity="0.48"/>
<circle cx="468.89" cy="523.92" r="0.4" fill="#d0e0c0" opacity="0.72"/>
<circle cx="513.20" cy="545.17" r="0.4" fill="#d0e0c0" opacity="0.42"/>
<circle cx="393.16" cy="533.25" r="0.5" fill="#a8c8b0" opacity="0.40"/>
<circle cx="408.23" cy="560.18" r="0.3" fill="#c0d8e0" opacity="0.75"/>
<circle cx="458.77" cy="531.29" r="0.5" fill="#a8c8b0" opacity="0.60"/>
<circle cx="445.15" cy="587.31" r="0.4" fill="#d0e0c0" opacity="0.69"/>
<circle cx="402.40" cy="594.05" r="0.4" fill="#d0e0c0" opacity="0.42"/>
<circle cx="479.28" cy="534.60" r="0.3" fill="#78b070" opacity="0.51"/>
<circle cx="477.71" cy="534.00" r="0.4" fill="#c0d8e0" opacity="0.42"/>
<circle cx="508.60" cy="565.93" r="0.5" fill="#c0d8e0" opacity="0.78"/>
<circle cx="441.97" cy="500.68" r="0.5" fill="#d0e0c0" opacity="0.69"/>
<circle cx="446.70" cy="507.15" r="0.3" fill="#d0e0c0" opacity="0.45"/>
<circle cx="396.11" cy="591.68" r="0.4" fill="#78b070" opacity="0.36"/>
<circle cx="457.31" cy="591.74" r="0.5" fill="#c0d8e0" opacity="0.50"/>
<circle cx="456.14" cy="517.24" r="0.5" fill="#d0e0c0" opacity="0.39"/>
<circle cx="513.99" cy="589.51" r="0.4" fill="#d0e0c0" opacity="0.60"/>
<circle cx="406.16" cy="584.13" r="0.4" fill="#d0e0c0" opacity="0.37"/>
<circle cx="517.87" cy="533.54" r="0.4" fill="#78b070" opacity="0.77"/>
<circle cx="488.22" cy="568.70" r="0.4" fill="#d0e0c0" opacity="0.41"/>
<circle cx="485.50" cy="527.86" r="0.5" fill="#d0e0c0" opacity="0.68"/>
<circle cx="413.69" cy="518.25" r="0.3" fill="#d0e0c0" opacity="0.65"/>
<circle cx="478.26" cy="594.08" r="0.5" fill="#78b070" opacity="0.66"/>
<circle cx="416.71" cy="535.37" r="0.3" fill="#c0d8e0" opacity="0.43"/>
<circle cx="424.68" cy="568.52" r="0.3" fill="#c0d8e0" opacity="0.68"/>
<circle cx="428.97" cy="546.09" r="0.4" fill="#c0d8e0" opacity="0.43"/>
<circle cx="395.23" cy="585.95" r="0.5" fill="#78b070" opacity="0.77"/>
<circle cx="492.32" cy="522.09" r="0.4" fill="#a8c8b0" opacity="0.77"/>
<circle cx="398.14" cy="522.78" r="0.3" fill="#c0d8e0" opacity="0.53"/>
<circle cx="399.05" cy="524.05" r="0.4" fill="#c0d8e0" opacity="0.49"/>
<circle cx="397.80" cy="500.81" r="0.3" fill="#d0e0c0" opacity="0.67"/>
<circle cx="481.52" cy="516.87" r="0.3" fill="#a8c8b0" opacity="0.77"/>
<circle cx="502.87" cy="506.06" r="0.3" fill="#a8c8b0" opacity="0.74"/>
<circle cx="420.97" cy="498.66" r="0.5" fill="#78b070" opacity="0.57"/>
<circle cx="471.70" cy="536.99" r="0.5" fill="#d0e0c0" opacity="0.68"/>
<circle cx="520.24" cy="529.62" r="0.4" fill="#d0e0c0" opacity="0.60"/>
<circle cx="410.21" cy="548.36" r="0.4" fill="#c0d8e0" opacity="0.50"/>
<circle cx="408.95" cy="505.55" r="0.3" fill="#a8c8b0" opacity="0.71"/>
<circle cx="528.02" cy="567.89" r="0.4" fill="#a8c8b0" opacity="0.58"/>
<circle cx="425.85" cy="571.87" r="0.4" fill="#78b070" opacity="0.75"/>
<circle cx="400.71" cy="578.90" r="0.4" fill="#a8c8b0" opacity="0.75"/>
<circle cx="483.45" cy="577.86" r="0.5" fill="#a8c8b0" opacity="0.55"/>
<circle cx="506.57" cy="566.74" r="0.3" fill="#a8c8b0" opacity="0.67"/>
<circle cx="428.54" cy="583.45" r="0.4" fill="#d0e0c0" opacity="0.50"/>
<circle cx="434.05" cy="511.45" r="0.4" fill="#78b070" opacity="0.49"/>
<circle cx="399.53" cy="578.30" r="0.5" fill="#a8c8b0" opacity="0.37"/>
<circle cx="397.69" cy="510.68" r="0.4" fill="#c0d8e0" opacity="0.74"/>
<circle cx="525.38" cy="562.10" r="0.3" fill="#c0d8e0" opacity="0.42"/>
<circle cx="419.09" cy="535.02" r="0.3" fill="#d0e0c0" opacity="0.68"/>
<circle cx="404.04" cy="553.38" r="0.3" fill="#d0e0c0" opacity="0.56"/>
<circle cx="523.87" cy="581.60" r="0.3" fill="#78b070" opacity="0.50"/>
<circle cx="520.52" cy="545.99" r="0.4" fill="#d0e0c0" opacity="0.55"/>
<circle cx="499.56" cy="596.70" r="0.5" fill="#c0d8e0" opacity="0.79"/>
<circle cx="475.19" cy="507.85" r="0.4" fill="#a8c8b0" opacity="0.45"/>
<circle cx="390.65" cy="593.79" r="0.3" fill="#c0d8e0" opacity="0.67"/>
<circle cx="440.84" cy="546.33" r="0.3" fill="#78b070" opacity="0.72"/>
<circle cx="433.59" cy="551.84" r="0.3" fill="#78b070" opacity="0.51"/>
<circle cx="425.77" cy="601.62" r="0.3" fill="#c0d8e0" opacity="0.54"/>
<circle cx="410.83" cy="585.54" r="0.4" fill="#c0d8e0" opacity="0.38"/>
<circle cx="414.59" cy="507.33" r="0.5" fill="#78b070" opacity="0.76"/>
<circle cx="418.82" cy="581.84" r="0.4" fill="#c0d8e0" opacity="0.66"/>
<circle cx="513.15" cy="563.29" r="0.3" fill="#c0d8e0" opacity="0.66"/>
<circle cx="405.21" cy="561.39" r="0.5" fill="#d0e0c0" opacity="0.72"/>
<circle cx="393.66" cy="569.14" r="0.5" fill="#78b070" opacity="0.59"/>
<circle cx="461.72" cy="555.02" r="0.5" fill="#c0d8e0" opacity="0.56"/>
<circle cx="502.42" cy="558.62" r="0.5" fill="#a8c8b0" opacity="0.60"/>
<circle cx="503.99" cy="535.51" r="0.5" fill="#a8c8b0" opacity="0.66"/>
</g>
<clipPath id="f4"><rect x="540.10" y="496.40" width="142.70" height="107.50"/></clipPath>
<filter id="df4" filterUnits="userSpaceOnUse" x="536.10" y="492.40" width="150.70" height="115.50" color-interpolation-filters="sRGB">
<feGaussianBlur in="SourceGraphic" stdDeviation="1.0" result="d0"/>
<feTurbulence type="fractalNoise" baseFrequency="0.06" numOctaves="2" seed="17"/><feColorMatrix type="matrix" values="1 0 0 0 0  0 1 0 0 0  0 0 1 0 0  0 0 0 0 1" result="n2"/>
<feComposite in="d0" in2="n2" operator="arithmetic" k1="0" k2="1" k3="0.6" k4="-0.300" result="d"/>
<feTurbulence type="fractalNoise" baseFrequency="0.42" numOctaves="2" seed="12"/><feColorMatrix type="matrix" values="1 0 0 0 0  0 1 0 0 0  0 0 1 0 0  0 0 0 0 1" result="n1"/>
<feComposite in="n1" in2="d" operator="arithmetic" k1="3.6" k2="0" k3="-0.55" k4="-0.3" result="c"/>
<feColorMatrix type="matrix" values="0.07 0 0 0 0.01  0.08 0 0 0 0.005  0.54 0 0 0 0.035  0 0 0 0 1"/>
</filter>
<g clip-path="url(#f4)">
<g filter="url(#df4)">
<rect x="536.10" y="492.40" width="150.70" height="115.50" fill="#787878"/>
<ellipse cx="605.74" cy="502.85" rx="4.28" ry="5.38" fill="#2c2c2c"/>
<ellipse cx="651.41" cy="520.05" rx="4.28" ry="4.30" fill="#2c2c2c"/>
<ellipse cx="661.39" cy="550.15" rx="5.71" ry="5.38" fill="#2c2c2c"/>
<ellipse cx="647.12" cy="580.25" rx="7.13" ry="6.45" fill="#2c2c2c"/>
<ellipse cx="554.37" cy="555.52" rx="4.28" ry="4.30" fill="#2c2c2c"/>
<ellipse cx="672.81" cy="591.00" rx="7.13" ry="6.45" fill="#2c2c2c"/>
<path d="M25 14 C28 10 34 12 34 20 C34 26 30 29 27 27 C24 24 23 18 25 14Z" transform="translate(540.10 496.40) scale(1.4270 1.0750)" fill="#000" stroke="#e2e2e2" stroke-width="6.4" stroke-linejoin="round" paint-order="stroke"/>
<path d="M40 21 C44 16 52 20 58 19 C62 20 60 28 56 30 C50 32 44 31 41 28 C39 26 39 23 40 21Z" transform="translate(540.10 496.40) scale(1.4270 1.0750)" fill="#000" stroke="#e2e2e2" stroke-width="6.4" stroke-linejoin="round" paint-order="stroke"/>
<path d="M56 39 C60 36 68 38 68 44 C68 50 62 52 58 50 C55 47 54 42 56 39Z" transform="translate(540.10 496.40) scale(1.4270 1.0750)" fill="#000" stroke="#e2e2e2" stroke-width="6.4" stroke-linejoin="round" paint-order="stroke"/>
<path d="M25 76 C30 73 38 75 38 81 C38 87 30 88 26 86 C23 83 23 79 25 76Z" transform="translate(540.10 496.40) scale(1.4270 1.0750)" fill="#000" stroke="#e2e2e2" stroke-width="6.4" stroke-linejoin="round" paint-order="stroke"/>
<path d="M51 70 C56 67 63 72 63 79 C63 86 56 88 53 85 C49 81 49 74 51 70Z" transform="translate(540.10 496.40) scale(1.4270 1.0750)" fill="#000" stroke="#e2e2e2" stroke-width="6.4" stroke-linejoin="round" paint-order="stroke"/>
</g>
<circle cx="578.21" cy="543.23" r="0.35" fill="#d0e8b0" opacity="0.74"/>
<circle cx="597.05" cy="555.78" r="0.5" fill="#a8d890" opacity="0.51"/>
<circle cx="608.19" cy="564.75" r="0.5" fill="#c0e0d0" opacity="0.43"/>
<circle cx="620.92" cy="500.22" r="0.45" fill="#d0e8b0" opacity="0.43"/>
<circle cx="596.49" cy="537.98" r="0.5" fill="#a8d890" opacity="0.70"/>
<circle cx="576.75" cy="549.87" r="0.35" fill="#78c060" opacity="0.45"/>
<circle cx="590.65" cy="564.94" r="0.35" fill="#78c060" opacity="0.76"/>
<circle cx="595.88" cy="569.73" r="0.35" fill="#d0e8b0" opacity="0.67"/>
<circle cx="617.24" cy="502.96" r="0.45" fill="#c0e0d0" opacity="0.42"/>
<circle cx="594.91" cy="544.25" r="0.35" fill="#a8d890" opacity="0.41"/>
<circle cx="573.57" cy="533.96" r="0.35" fill="#78c060" opacity="0.36"/>
<circle cx="596.31" cy="558.88" r="0.35" fill="#a8d890" opacity="0.61"/>
<circle cx="596.35" cy="566.68" r="0.35" fill="#c0e0d0" opacity="0.44"/>
<circle cx="614.72" cy="497.86" r="0.35" fill="#d0e8b0" opacity="0.77"/>
<circle cx="594.09" cy="536.03" r="0.45" fill="#d0e8b0" opacity="0.69"/>
<circle cx="582.37" cy="531.74" r="0.35" fill="#a8d890" opacity="0.74"/>
<circle cx="575.93" cy="562.26" r="0.35" fill="#a8d890" opacity="0.68"/>
<circle cx="603.96" cy="563.04" r="0.5" fill="#a8d890" opacity="0.74"/>
<circle cx="618.85" cy="507.10" r="0.45" fill="#c0e0d0" opacity="0.45"/>
<circle cx="597.61" cy="547.13" r="0.5" fill="#a8d890" opacity="0.53"/>
<circle cx="582.77" cy="541.38" r="0.35" fill="#d0e8b0" opacity="0.46"/>
<circle cx="587.01" cy="565.32" r="0.45" fill="#78c060" opacity="0.41"/>
<circle cx="600.31" cy="566.40" r="0.5" fill="#c0e0d0" opacity="0.58"/>
<circle cx="613.76" cy="500.49" r="0.5" fill="#a8d890" opacity="0.55"/>
<circle cx="595.64" cy="548.26" r="0.45" fill="#78c060" opacity="0.78"/>
<circle cx="580.37" cy="540.02" r="0.45" fill="#d0e8b0" opacity="0.66"/>
<circle cx="589.85" cy="554.60" r="0.35" fill="#78c060" opacity="0.78"/>
<circle cx="607.80" cy="566.84" r="0.35" fill="#a8d890" opacity="0.39"/>
<circle cx="615.03" cy="505.94" r="0.5" fill="#a8d890" opacity="0.79"/>
<circle cx="592.89" cy="539.12" r="0.5" fill="#78c060" opacity="0.42"/>
<circle cx="588.36" cy="546.51" r="0.5" fill="#a8d890" opacity="0.39"/>
<circle cx="578.00" cy="558.05" r="0.45" fill="#d0e8b0" opacity="0.65"/>
<circle cx="598.87" cy="573.08" r="0.5" fill="#c0e0d0" opacity="0.51"/>
<circle cx="616.34" cy="501.64" r="0.35" fill="#d0e8b0" opacity="0.71"/>
<circle cx="595.42" cy="534.94" r="0.35" fill="#a8d890" opacity="0.45"/>
<circle cx="576.32" cy="543.21" r="0.5" fill="#c0e0d0" opacity="0.40"/>
<circle cx="579.49" cy="553.36" r="0.45" fill="#a8d890" opacity="0.77"/>
<circle cx="617.76" cy="569.79" r="0.45" fill="#78c060" opacity="0.59"/>
<circle cx="608.22" cy="501.22" r="0.35" fill="#78c060" opacity="0.39"/>
<circle cx="594.70" cy="539.56" r="0.35" fill="#c0e0d0" opacity="0.56"/>
<circle cx="575.82" cy="542.21" r="0.35" fill="#a8d890" opacity="0.52"/>
<circle cx="592.36" cy="552.83" r="0.5" fill="#c0e0d0" opacity="0.75"/>
<circle cx="607.53" cy="568.65" r="0.5" fill="#a8d890" opacity="0.66"/>
<circle cx="613.41" cy="503.52" r="0.35" fill="#a8d890" opacity="0.63"/>
<circle cx="594.98" cy="538.68" r="0.45" fill="#c0e0d0" opacity="0.60"/>
<circle cx="575.22" cy="543.41" r="0.35" fill="#78c060" opacity="0.40"/>
<circle cx="585.16" cy="560.93" r="0.45" fill="#d0e8b0" opacity="0.79"/>
<circle cx="610.79" cy="566.65" r="0.35" fill="#78c060" opacity="0.66"/>
<circle cx="612.87" cy="503.36" r="0.35" fill="#a8d890" opacity="0.41"/>
<circle cx="601.68" cy="544.20" r="0.35" fill="#78c060" opacity="0.41"/>
<circle cx="589.84" cy="543.10" r="0.35" fill="#78c060" opacity="0.74"/>
<circle cx="589.27" cy="555.80" r="0.5" fill="#d0e8b0" opacity="0.37"/>
<circle cx="599.87" cy="573.26" r="0.35" fill="#c0e0d0" opacity="0.39"/>
<circle cx="614.26" cy="509.15" r="0.5" fill="#d0e8b0" opacity="0.64"/>
<circle cx="593.37" cy="535.17" r="0.35" fill="#d0e8b0" opacity="0.79"/>
<circle cx="585.34" cy="525.76" r="0.35" fill="#78c060" opacity="0.79"/>
<circle cx="593.79" cy="558.15" r="0.35" fill="#c0e0d0" opacity="0.63"/>
<circle cx="594.77" cy="567.56" r="0.45" fill="#c0e0d0" opacity="0.45"/>
<circle cx="613.78" cy="506.39" r="0.5" fill="#c0e0d0" opacity="0.55"/>
<circle cx="596.02" cy="541.27" r="0.45" fill="#a8d890" opacity="0.44"/>
<circle cx="579.80" cy="540.23" r="0.5" fill="#78c060" opacity="0.65"/>
<circle cx="595.10" cy="561.26" r="0.45" fill="#c0e0d0" opacity="0.78"/>
<circle cx="589.04" cy="561.37" r="0.5" fill="#c0e0d0" opacity="0.45"/>
<circle cx="611.81" cy="502.09" r="0.35" fill="#c0e0d0" opacity="0.57"/>
<circle cx="596.86" cy="534.43" r="0.5" fill="#a8d890" opacity="0.56"/>
<circle cx="594.07" cy="541.89" r="0.35" fill="#a8d890" opacity="0.46"/>
<circle cx="594.79" cy="555.03" r="0.35" fill="#d0e8b0" opacity="0.50"/>
<circle cx="597.67" cy="562.54" r="0.45" fill="#c0e0d0" opacity="0.53"/>
<circle cx="609.39" cy="499.49" r="0.5" fill="#78c060" opacity="0.52"/>
<circle cx="593.86" cy="541.00" r="0.45" fill="#d0e8b0" opacity="0.71"/>
<circle cx="583.44" cy="536.90" r="0.35" fill="#a8d890" opacity="0.49"/>
<circle cx="593.00" cy="552.71" r="0.5" fill="#c0e0d0" opacity="0.76"/>
<circle cx="600.17" cy="563.92" r="0.35" fill="#c0e0d0" opacity="0.57"/>
<circle cx="616.10" cy="502.77" r="0.35" fill="#78c060" opacity="0.69"/>
<circle cx="597.61" cy="538.34" r="0.45" fill="#a8d890" opacity="0.61"/>
<circle cx="571.00" cy="537.21" r="0.35" fill="#c0e0d0" opacity="0.42"/>
<circle cx="590.80" cy="562.05" r="0.45" fill="#d0e8b0" opacity="0.59"/>
<circle cx="603.97" cy="562.63" r="0.35" fill="#a8d890" opacity="0.77"/>
<circle cx="613.59" cy="499.16" r="0.35" fill="#78c060" opacity="0.72"/>
<circle cx="590.49" cy="540.11" r="0.5" fill="#d0e8b0" opacity="0.60"/>
<circle cx="594.12" cy="531.97" r="0.35" fill="#78c060" opacity="0.47"/>
<circle cx="588.76" cy="561.58" r="0.5" fill="#d0e8b0" opacity="0.69"/>
<circle cx="608.42" cy="567.83" r="0.45" fill="#d0e8b0" opacity="0.79"/>
<circle cx="614.76" cy="503.82" r="0.5" fill="#d0e8b0" opacity="0.65"/>
<circle cx="590.77" cy="542.97" r="0.45" fill="#78c060" opacity="0.53"/>
<circle cx="591.14" cy="548.00" r="0.35" fill="#c0e0d0" opacity="0.56"/>
<circle cx="586.51" cy="551.13" r="0.35" fill="#d0e8b0" opacity="0.64"/>
<circle cx="603.68" cy="557.97" r="0.45" fill="#d0e8b0" opacity="0.73"/>
<circle cx="624.80" cy="505.35" r="0.35" fill="#78c060" opacity="0.54"/>
<circle cx="594.24" cy="529.07" r="0.5" fill="#a8d890" opacity="0.59"/>
<circle cx="579.03" cy="541.61" r="0.45" fill="#78c060" opacity="0.60"/>
<circle cx="600.30" cy="555.43" r="0.5" fill="#c0e0d0" opacity="0.50"/>
<circle cx="602.34" cy="565.00" r="0.35" fill="#d0e8b0" opacity="0.56"/>
<circle cx="616.06" cy="504.80" r="0.35" fill="#a8d890" opacity="0.44"/>
<circle cx="587.74" cy="529.63" r="0.45" fill="#78c060" opacity="0.50"/>
<circle cx="588.37" cy="536.69" r="0.35" fill="#d0e8b0" opacity="0.69"/>
<circle cx="589.17" cy="557.14" r="0.35" fill="#78c060" opacity="0.73"/>
<circle cx="598.69" cy="563.43" r="0.5" fill="#a8d890" opacity="0.40"/>
<circle cx="611.78" cy="504.70" r="0.35" fill="#a8d890" opacity="0.47"/>
<circle cx="597.46" cy="541.90" r="0.45" fill="#78c060" opacity="0.67"/>
<circle cx="585.44" cy="551.61" r="0.5" fill="#c0e0d0" opacity="0.38"/>
<circle cx="594.72" cy="554.77" r="0.45" fill="#78c060" opacity="0.49"/>
<circle cx="602.11" cy="562.28" r="0.5" fill="#a8d890" opacity="0.39"/>
<circle cx="611.39" cy="506.88" r="0.5" fill="#d0e8b0" opacity="0.54"/>
<circle cx="591.59" cy="540.38" r="0.45" fill="#d0e8b0" opacity="0.39"/>
<circle cx="588.75" cy="549.63" r="0.45" fill="#c0e0d0" opacity="0.58"/>
<circle cx="587.57" cy="557.55" r="0.45" fill="#d0e8b0" opacity="0.79"/>
<circle cx="615.43" cy="564.13" r="0.35" fill="#a8d890" opacity="0.47"/>
<circle cx="613.45" cy="499.07" r="0.5" fill="#a8d890" opacity="0.45"/>
<circle cx="591.11" cy="534.55" r="0.45" fill="#d0e8b0" opacity="0.79"/>
<circle cx="588.35" cy="545.66" r="0.45" fill="#d0e8b0" opacity="0.74"/>
<circle cx="584.64" cy="557.14" r="0.45" fill="#c0e0d0" opacity="0.49"/>
<circle cx="598.71" cy="559.61" r="0.5" fill="#78c060" opacity="0.79"/>
<circle cx="608.64" cy="502.60" r="0.35" fill="#c0e0d0" opacity="0.72"/>
<circle cx="600.57" cy="540.78" r="0.5" fill="#78c060" opacity="0.39"/>
<circle cx="576.32" cy="542.93" r="0.5" fill="#d0e8b0" opacity="0.80"/>
<circle cx="581.27" cy="555.92" r="0.45" fill="#a8d890" opacity="0.61"/>
<circle cx="604.69" cy="567.62" r="0.5" fill="#a8d890" opacity="0.74"/>
<circle cx="612.28" cy="501.78" r="0.5" fill="#d0e8b0" opacity="0.48"/>
<circle cx="596.47" cy="534.06" r="0.5" fill="#c0e0d0" opacity="0.75"/>
<circle cx="600.60" cy="533.46" r="0.45" fill="#d0e8b0" opacity="0.43"/>
<circle cx="599.54" cy="554.50" r="0.45" fill="#78c060" opacity="0.57"/>
<circle cx="603.76" cy="564.76" r="0.5" fill="#78c060" opacity="0.76"/>
<circle cx="616.43" cy="502.24" r="0.35" fill="#c0e0d0" opacity="0.72"/>
<circle cx="598.33" cy="539.13" r="0.45" fill="#78c060" opacity="0.72"/>
<circle cx="581.51" cy="542.20" r="0.35" fill="#d0e8b0" opacity="0.73"/>
<circle cx="595.52" cy="550.81" r="0.35" fill="#a8d890" opacity="0.70"/>
<circle cx="603.17" cy="564.71" r="0.45" fill="#78c060" opacity="0.70"/>
<circle cx="612.65" cy="503.50" r="0.35" fill="#78c060" opacity="0.76"/>
<circle cx="600.27" cy="541.38" r="0.35" fill="#78c060" opacity="0.64"/>
<circle cx="582.70" cy="546.57" r="0.5" fill="#d0e8b0" opacity="0.58"/>
<circle cx="581.51" cy="554.24" r="0.5" fill="#78c060" opacity="0.57"/>
<circle cx="598.02" cy="568.40" r="0.45" fill="#d0e8b0" opacity="0.68"/>
<circle cx="614.54" cy="503.46" r="0.5" fill="#c0e0d0" opacity="0.42"/>
<circle cx="588.53" cy="537.25" r="0.5" fill="#c0e0d0" opacity="0.53"/>
<circle cx="586.61" cy="537.73" r="0.35" fill="#78c060" opacity="0.72"/>
<circle cx="589.39" cy="562.26" r="0.5" fill="#a8d890" opacity="0.41"/>
<circle cx="607.39" cy="567.37" r="0.45" fill="#d0e8b0" opacity="0.66"/>
<circle cx="610.31" cy="501.57" r="0.35" fill="#c0e0d0" opacity="0.47"/>
<circle cx="592.15" cy="536.00" r="0.35" fill="#78c060" opacity="0.71"/>
<circle cx="582.59" cy="545.98" r="0.35" fill="#a8d890" opacity="0.46"/>
<circle cx="597.34" cy="564.78" r="0.5" fill="#d0e8b0" opacity="0.63"/>
<circle cx="595.99" cy="564.23" r="0.45" fill="#78c060" opacity="0.62"/>
<circle cx="611.37" cy="503.29" r="0.45" fill="#a8d890" opacity="0.64"/>
<circle cx="597.17" cy="541.22" r="0.45" fill="#a8d890" opacity="0.52"/>
<circle cx="587.91" cy="535.38" r="0.5" fill="#78c060" opacity="0.64"/>
<circle cx="601.09" cy="555.61" r="0.5" fill="#d0e8b0" opacity="0.59"/>
<circle cx="607.79" cy="558.83" r="0.45" fill="#d0e8b0" opacity="0.43"/>
<circle cx="614.02" cy="503.38" r="0.35" fill="#a8d890" opacity="0.44"/>
<circle cx="594.81" cy="530.51" r="0.5" fill="#c0e0d0" opacity="0.37"/>
<circle cx="587.74" cy="532.77" r="0.5" fill="#d0e8b0" opacity="0.49"/>
<circle cx="592.41" cy="551.95" r="0.35" fill="#c0e0d0" opacity="0.60"/>
<circle cx="602.75" cy="561.26" r="0.5" fill="#d0e8b0" opacity="0.40"/>
<circle cx="616.49" cy="504.23" r="0.45" fill="#d0e8b0" opacity="0.68"/>
<circle cx="591.34" cy="532.33" r="0.35" fill="#78c060" opacity="0.70"/>
<circle cx="582.83" cy="544.16" r="0.45" fill="#a8d890" opacity="0.74"/>
<circle cx="589.67" cy="547.25" r="0.45" fill="#d0e8b0" opacity="0.44"/>
<circle cx="594.74" cy="565.18" r="0.5" fill="#78c060" opacity="0.67"/>
<circle cx="620.48" cy="510.38" r="0.5" fill="#c0e0d0" opacity="0.59"/>
<circle cx="591.47" cy="543.58" r="0.45" fill="#c0e0d0" opacity="0.46"/>
<circle cx="579.00" cy="542.67" r="0.35" fill="#c0e0d0" opacity="0.61"/>
<circle cx="591.26" cy="557.98" r="0.35" fill="#c0e0d0" opacity="0.52"/>
<circle cx="602.49" cy="571.79" r="0.35" fill="#a8d890" opacity="0.42"/>
<circle cx="614.79" cy="501.75" r="0.45" fill="#78c060" opacity="0.41"/>
<circle cx="593.61" cy="541.63" r="0.45" fill="#d0e8b0" opacity="0.49"/>
<circle cx="569.82" cy="556.78" r="0.45" fill="#78c060" opacity="0.43"/>
<circle cx="590.57" cy="556.21" r="0.35" fill="#78c060" opacity="0.68"/>
<circle cx="598.24" cy="566.48" r="0.45" fill="#c0e0d0" opacity="0.64"/>
<circle cx="613.41" cy="498.58" r="0.35" fill="#78c060" opacity="0.44"/>
<circle cx="593.71" cy="532.64" r="0.35" fill="#a8d890" opacity="0.70"/>
<circle cx="581.80" cy="542.02" r="0.45" fill="#a8d890" opacity="0.45"/>
<circle cx="590.53" cy="556.64" r="0.45" fill="#a8d890" opacity="0.55"/>
<circle cx="606.08" cy="569.83" r="0.45" fill="#d0e8b0" opacity="0.37"/>
<circle cx="612.66" cy="503.16" r="0.35" fill="#a8d890" opacity="0.69"/>
<circle cx="590.70" cy="539.00" r="0.5" fill="#a8d890" opacity="0.64"/>
<circle cx="590.43" cy="537.82" r="0.45" fill="#c0e0d0" opacity="0.37"/>
<circle cx="590.00" cy="558.06" r="0.45" fill="#78c060" opacity="0.68"/>
<circle cx="598.33" cy="566.47" r="0.45" fill="#c0e0d0" opacity="0.65"/>
<circle cx="616.14" cy="502.40" r="0.45" fill="#c0e0d0" opacity="0.47"/>
<circle cx="590.58" cy="535.59" r="0.35" fill="#78c060" opacity="0.39"/>
<circle cx="579.34" cy="537.96" r="0.5" fill="#d0e8b0" opacity="0.53"/>
<circle cx="582.31" cy="555.35" r="0.5" fill="#78c060" opacity="0.60"/>
<circle cx="600.86" cy="568.72" r="0.35" fill="#c0e0d0" opacity="0.51"/>
<circle cx="614.72" cy="504.27" r="0.5" fill="#d0e8b0" opacity="0.61"/>
<circle cx="600.25" cy="534.70" r="0.5" fill="#78c060" opacity="0.76"/>
<circle cx="584.17" cy="544.89" r="0.35" fill="#a8d890" opacity="0.37"/>
<circle cx="593.27" cy="554.38" r="0.35" fill="#c0e0d0" opacity="0.46"/>
<circle cx="610.60" cy="570.58" r="0.45" fill="#a8d890" opacity="0.68"/>
<circle cx="578.70" cy="522.25" r="0.5" fill="#c0e0d0" opacity="0.46"/>
<circle cx="591.94" cy="526.55" r="0.35" fill="#a8d890" opacity="0.50"/>
<circle cx="551.61" cy="589.83" r="0.5" fill="#a8d890" opacity="0.78"/>
<circle cx="554.45" cy="529.84" r="0.5" fill="#a8d890" opacity="0.70"/>
<circle cx="682.18" cy="576.32" r="0.5" fill="#78c060" opacity="0.56"/>
<circle cx="679.37" cy="587.92" r="0.45" fill="#d0e8b0" opacity="0.43"/>
<circle cx="660.25" cy="530.41" r="0.35" fill="#a8d890" opacity="0.68"/>
<circle cx="547.37" cy="553.87" r="0.5" fill="#a8d890" opacity="0.63"/>
<circle cx="555.35" cy="572.46" r="0.35" fill="#78c060" opacity="0.38"/>
<circle cx="547.51" cy="601.62" r="0.35" fill="#a8d890" opacity="0.53"/>
<circle cx="645.76" cy="559.49" r="0.45" fill="#a8d890" opacity="0.47"/>
<circle cx="564.49" cy="516.96" r="0.35" fill="#a8d890" opacity="0.76"/>
<circle cx="667.32" cy="549.86" r="0.45" fill="#a8d890" opacity="0.37"/>
<circle cx="553.14" cy="597.56" r="0.35" fill="#78c060" opacity="0.50"/>
<circle cx="642.25" cy="522.85" r="0.5" fill="#a8d890" opacity="0.75"/>
<circle cx="542.62" cy="561.18" r="0.45" fill="#d0e8b0" opacity="0.41"/>
<circle cx="644.32" cy="577.54" r="0.35" fill="#a8d890" opacity="0.65"/>
<circle cx="629.07" cy="517.85" r="0.35" fill="#78c060" opacity="0.39"/>
<circle cx="607.39" cy="559.66" r="0.35" fill="#d0e8b0" opacity="0.59"/>
<circle cx="673.93" cy="532.16" r="0.45" fill="#c0e0d0" opacity="0.77"/>
<circle cx="664.79" cy="598.80" r="0.35" fill="#78c060" opacity="0.80"/>
<circle cx="587.41" cy="535.08" r="0.35" fill="#78c060" opacity="0.71"/>
<circle cx="624.12" cy="545.68" r="0.45" fill="#c0e0d0" opacity="0.59"/>
<circle cx="623.24" cy="512.70" r="0.5" fill="#a8d890" opacity="0.48"/>
<circle cx="543.04" cy="599.32" r="0.35" fill="#c0e0d0" opacity="0.70"/>
<circle cx="601.23" cy="561.90" r="0.35" fill="#d0e8b0" opacity="0.59"/>
<circle cx="554.61" cy="506.30" r="0.35" fill="#c0e0d0" opacity="0.54"/>
<circle cx="542.23" cy="557.32" r="0.45" fill="#78c060" opacity="0.62"/>
<circle cx="638.15" cy="505.97" r="0.5" fill="#a8d890" opacity="0.39"/>
<circle cx="640.09" cy="569.07" r="0.45" fill="#78c060" opacity="0.77"/>
<circle cx="637.41" cy="547.27" r="0.45" fill="#78c060" opacity="0.70"/>
<circle cx="619.41" cy="577.75" r="0.5" fill="#c0e0d0" opacity="0.69"/>
<circle cx="665.76" cy="512.09" r="0.5" fill="#c0e0d0" opacity="0.38"/>
<circle cx="672.66" cy="593.47" r="0.35" fill="#d0e8b0" opacity="0.37"/>
<circle cx="667.34" cy="546.01" r="0.35" fill="#d0e8b0" opacity="0.43"/>
<circle cx="679.86" cy="553.34" r="0.5" fill="#c0e0d0" opacity="0.44"/>
<circle cx="561.68" cy="581.87" r="0.35" fill="#c0e0d0" opacity="0.61"/>
<circle cx="633.04" cy="518.23" r="0.35" fill="#a8d890" opacity="0.67"/>
<circle cx="664.98" cy="583.29" r="0.35" fill="#d0e8b0" opacity="0.51"/>
<circle cx="604.68" cy="499.94" r="0.5" fill="#d0e8b0" opacity="0.79"/>
<circle cx="670.69" cy="586.42" r="0.45" fill="#a8d890" opacity="0.65"/>
<circle cx="664.70" cy="497.27" r="0.35" fill="#78c060" opacity="0.79"/>
<circle cx="553.12" cy="594.02" r="0.45" fill="#d0e8b0" opacity="0.47"/>
<circle cx="593.79" cy="591.24" r="0.5" fill="#a8d890" opacity="0.58"/>
<circle cx="604.14" cy="542.99" r="0.45" fill="#78c060" opacity="0.68"/>
<circle cx="597.98" cy="579.45" r="0.5" fill="#d0e8b0" opacity="0.63"/>
<circle cx="636.47" cy="525.57" r="0.45" fill="#d0e8b0" opacity="0.77"/>
<circle cx="579.36" cy="500.11" r="0.5" fill="#d0e8b0" opacity="0.61"/>
<circle cx="588.18" cy="534.42" r="0.45" fill="#a8d890" opacity="0.43"/>
<circle cx="633.54" cy="497.06" r="0.35" fill="#a8d890" opacity="0.55"/>
<circle cx="647.65" cy="577.51" r="0.5" fill="#c0e0d0" opacity="0.56"/>
<circle cx="573.53" cy="570.16" r="0.5" fill="#c0e0d0" opacity="0.52"/>
<circle cx="605.89" cy="520.41" r="0.35" fill="#78c060" opacity="0.74"/>
<circle cx="598.05" cy="564.33" r="0.5" fill="#c0e0d0" opacity="0.63"/>
<circle cx="665.92" cy="538.82" r="0.5" fill="#a8d890" opacity="0.61"/>
<circle cx="581.34" cy="551.53" r="0.35" fill="#a8d890" opacity="0.39"/>
<circle cx="633.76" cy="591.23" r="0.45" fill="#78c060" opacity="0.37"/>
<circle cx="587.13" cy="509.11" r="0.5" fill="#d0e8b0" opacity="0.49"/>
<circle cx="627.26" cy="532.62" r="0.35" fill="#d0e8b0" opacity="0.73"/>
<circle cx="554.87" cy="595.47" r="0.5" fill="#c0e0d0" opacity="0.54"/>
<circle cx="601.68" cy="557.86" r="0.35" fill="#78c060" opacity="0.74"/>
<circle cx="632.11" cy="565.35" r="0.45" fill="#a8d890" opacity="0.41"/>
<circle cx="651.83" cy="515.94" r="0.45" fill="#d0e8b0" opacity="0.46"/>
<circle cx="555.29" cy="603.68" r="0.5" fill="#d0e8b0" opacity="0.64"/>
<circle cx="675.87" cy="571.15" r="0.45" fill="#a8d890" opacity="0.80"/>
<circle cx="618.50" cy="532.60" r="0.5" fill="#a8d890" opacity="0.40"/>
<circle cx="600.72" cy="597.67" r="0.35" fill="#a8d890" opacity="0.54"/>
<circle cx="583.41" cy="562.81" r="0.35" fill="#78c060" opacity="0.69"/>
<circle cx="599.92" cy="517.04" r="0.45" fill="#c0e0d0" opacity="0.66"/>
<circle cx="549.34" cy="539.28" r="0.5" fill="#c0e0d0" opacity="0.47"/>
<circle cx="657.43" cy="587.37" r="0.35" fill="#c0e0d0" opacity="0.65"/>
<circle cx="574.44" cy="576.80" r="0.5" fill="#78c060" opacity="0.55"/>
<circle cx="656.02" cy="567.44" r="0.5" fill="#d0e8b0" opacity="0.76"/>
<circle cx="662.56" cy="550.51" r="0.45" fill="#a8d890" opacity="0.43"/>
<circle cx="643.45" cy="507.57" r="0.45" fill="#c0e0d0" opacity="0.67"/>
<circle cx="607.45" cy="559.37" r="0.5" fill="#a8d890" opacity="0.53"/>
<circle cx="561.75" cy="558.18" r="0.5" fill="#a8d890" opacity="0.37"/>
<circle cx="544.42" cy="540.71" r="0.35" fill="#a8d890" opacity="0.72"/>
<circle cx="669.21" cy="602.47" r="0.45" fill="#d0e8b0" opacity="0.38"/>
<circle cx="622.57" cy="580.44" r="0.5" fill="#a8d890" opacity="0.64"/>
<circle cx="680.22" cy="536.78" r="0.45" fill="#d0e8b0" opacity="0.76"/>
<circle cx="654.07" cy="516.34" r="0.45" fill="#78c060" opacity="0.39"/>
<circle cx="656.50" cy="592.58" r="0.5" fill="#a8d890" opacity="0.78"/>
<circle cx="619.58" cy="576.19" r="0.45" fill="#d0e8b0" opacity="0.73"/>
<circle cx="625.88" cy="526.50" r="0.35" fill="#a8d890" opacity="0.80"/>
<circle cx="629.96" cy="549.49" r="0.5" fill="#c0e0d0" opacity="0.38"/>
<circle cx="557.09" cy="587.22" r="0.45" fill="#78c060" opacity="0.64"/>
<circle cx="552.65" cy="603.78" r="0.45" fill="#c0e0d0" opacity="0.65"/>
<circle cx="554.29" cy="506.99" r="0.45" fill="#c0e0d0" opacity="0.67"/>
<circle cx="564.79" cy="592.65" r="0.35" fill="#d0e8b0" opacity="0.70"/>
<circle cx="607.32" cy="555.98" r="0.5" fill="#78c060" opacity="0.78"/>
<circle cx="654.62" cy="568.47" r="0.45" fill="#78c060" opacity="0.70"/>
<circle cx="618.55" cy="551.94" r="0.35" fill="#c0e0d0" opacity="0.47"/>
<circle cx="623.45" cy="586.84" r="0.35" fill="#d0e8b0" opacity="0.72"/>
<circle cx="607.43" cy="570.98" r="0.35" fill="#a8d890" opacity="0.80"/>
<circle cx="573.66" cy="578.72" r="0.45" fill="#c0e0d0" opacity="0.67"/>
<circle cx="659.01" cy="515.34" r="0.35" fill="#c0e0d0" opacity="0.51"/>
<circle cx="595.28" cy="547.47" r="0.45" fill="#78c060" opacity="0.76"/>
<circle cx="551.24" cy="603.00" r="0.45" fill="#c0e0d0" opacity="0.53"/>
<circle cx="589.56" cy="520.35" r="0.5" fill="#a8d890" opacity="0.66"/>
<circle cx="596.78" cy="578.35" r="0.45" fill="#c0e0d0" opacity="0.66"/>
<circle cx="541.90" cy="545.16" r="0.45" fill="#d0e8b0" opacity="0.43"/>
<circle cx="633.65" cy="596.95" r="0.35" fill="#a8d890" opacity="0.70"/>
<circle cx="552.74" cy="563.79" r="0.35" fill="#78c060" opacity="0.51"/>
<circle cx="568.14" cy="577.46" r="0.35" fill="#d0e8b0" opacity="0.41"/>
<circle cx="593.88" cy="580.54" r="0.35" fill="#78c060" opacity="0.43"/>
<circle cx="597.42" cy="554.26" r="0.5" fill="#a8d890" opacity="0.79"/>
<circle cx="573.81" cy="525.50" r="0.45" fill="#a8d890" opacity="0.48"/>
<circle cx="648.28" cy="527.69" r="0.5" fill="#d0e8b0" opacity="0.60"/>
<circle cx="651.52" cy="567.70" r="0.5" fill="#c0e0d0" opacity="0.37"/>
<circle cx="641.00" cy="543.65" r="0.5" fill="#d0e8b0" opacity="0.76"/>
<circle cx="568.44" cy="589.32" r="0.45" fill="#a8d890" opacity="0.59"/>
<circle cx="634.46" cy="559.65" r="0.5" fill="#d0e8b0" opacity="0.65"/>
<circle cx="561.63" cy="578.15" r="0.35" fill="#78c060" opacity="0.71"/>
<circle cx="551.94" cy="500.08" r="0.5" fill="#d0e8b0" opacity="0.45"/>
<circle cx="554.65" cy="523.85" r="0.45" fill="#78c060" opacity="0.41"/>
<circle cx="681.55" cy="529.41" r="0.35" fill="#78c060" opacity="0.57"/>
<circle cx="630.71" cy="505.97" r="0.5" fill="#78c060" opacity="0.69"/>
<circle cx="663.21" cy="589.32" r="0.45" fill="#c0e0d0" opacity="0.46"/>
<circle cx="553.17" cy="571.01" r="0.5" fill="#c0e0d0" opacity="0.41"/>
<circle cx="642.84" cy="591.71" r="0.35" fill="#78c060" opacity="0.68"/>
<circle cx="607.91" cy="577.83" r="0.5" fill="#78c060" opacity="0.75"/>
<circle cx="588.79" cy="567.79" r="0.45" fill="#d0e8b0" opacity="0.45"/>
<circle cx="587.48" cy="596.75" r="0.35" fill="#c0e0d0" opacity="0.59"/>
<circle cx="621.44" cy="535.41" r="0.5" fill="#78c060" opacity="0.71"/>
<circle cx="549.56" cy="540.02" r="0.5" fill="#78c060" opacity="0.36"/>
<circle cx="655.08" cy="547.22" r="0.5" fill="#a8d890" opacity="0.59"/>
<circle cx="668.41" cy="581.62" r="0.35" fill="#d0e8b0" opacity="0.50"/>
<circle cx="616.92" cy="551.13" r="0.5" fill="#a8d890" opacity="0.44"/>
<circle cx="633.26" cy="555.75" r="0.5" fill="#78c060" opacity="0.56"/>
<circle cx="566.90" cy="514.00" r="0.45" fill="#d0e8b0" opacity="0.57"/>
<circle cx="673.19" cy="570.60" r="0.35" fill="#d0e8b0" opacity="0.47"/>
<circle cx="612.35" cy="599.37" r="0.5" fill="#d0e8b0" opacity="0.78"/>
<circle cx="562.72" cy="558.09" r="0.45" fill="#78c060" opacity="0.72"/>
<circle cx="561.05" cy="521.27" r="0.5" fill="#a8d890" opacity="0.70"/>
<circle cx="666.31" cy="568.78" r="0.5" fill="#c0e0d0" opacity="0.47"/>
<circle cx="559.47" cy="506.72" r="0.5" fill="#a8d890" opacity="0.76"/>
<circle cx="592.09" cy="554.61" r="0.45" fill="#d0e8b0" opacity="0.65"/>
<circle cx="668.43" cy="573.40" r="0.45" fill="#c0e0d0" opacity="0.51"/>
<circle cx="580.10" cy="535.74" r="0.35" fill="#c0e0d0" opacity="0.38"/>
<circle cx="596.76" cy="532.63" r="0.45" fill="#d0e8b0" opacity="0.52"/>
<circle cx="681.03" cy="516.94" r="0.35" fill="#d0e8b0" opacity="0.73"/>
<circle cx="657.08" cy="591.33" r="0.35" fill="#d0e8b0" opacity="0.69"/>
<circle cx="620.80" cy="597.54" r="0.45" fill="#a8d890" opacity="0.49"/>
<circle cx="550.03" cy="581.56" r="0.35" fill="#d0e8b0" opacity="0.67"/>
<circle cx="590.64" cy="508.71" r="0.45" fill="#78c060" opacity="0.62"/>
<circle cx="608.77" cy="563.97" r="0.35" fill="#c0e0d0" opacity="0.39"/>
<circle cx="602.95" cy="565.35" r="0.45" fill="#c0e0d0" opacity="0.75"/>
<circle cx="594.52" cy="571.64" r="0.45" fill="#c0e0d0" opacity="0.50"/>
<circle cx="627.06" cy="600.67" r="0.5" fill="#d0e8b0" opacity="0.78"/>
<circle cx="660.33" cy="603.48" r="0.45" fill="#c0e0d0" opacity="0.80"/>
<circle cx="619.63" cy="499.60" r="0.35" fill="#d0e8b0" opacity="0.75"/>
</g>
<path d="M391.5 602.6H401M520 601.5H529M541 603H551M669 601.8H679" stroke="#c8c8a0" stroke-width="0.7"/>
</svg></body></html>
